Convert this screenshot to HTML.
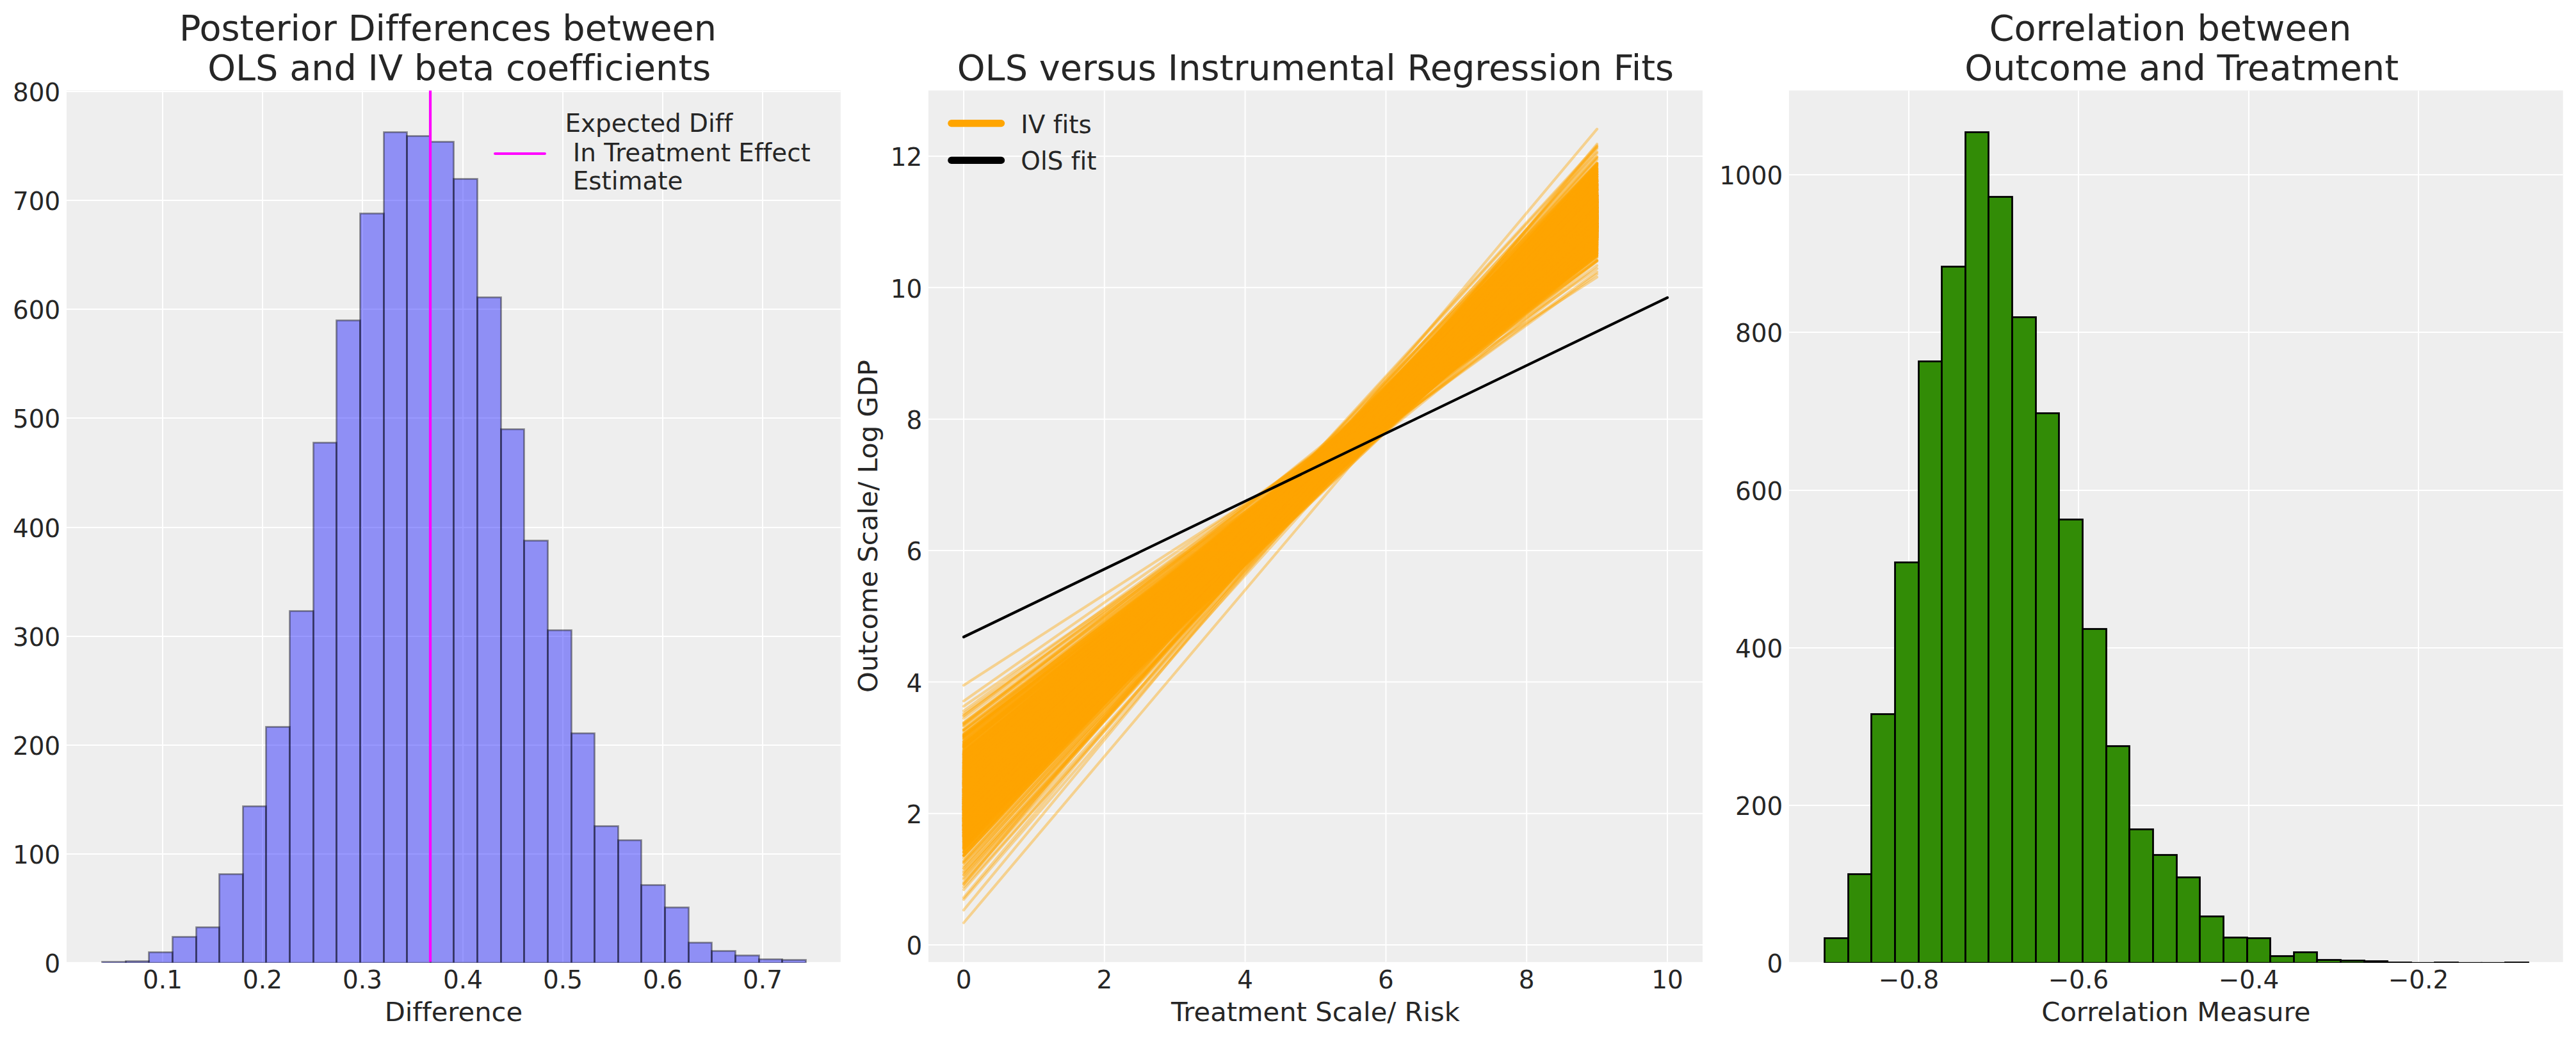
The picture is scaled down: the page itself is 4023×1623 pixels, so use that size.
<!DOCTYPE html>
<html lang="en"><head><meta charset="utf-8"><title>OLS vs IV posterior plots</title>
<style>html,body{margin:0;padding:0;background:#fff;overflow:hidden}svg{display:block}text{font-family:"DejaVu Sans","Liberation Sans",sans-serif;fill:#262626;white-space:pre;font-variant-ligatures:none;font-kerning:normal}</style></head><body>
<svg width="4023" height="1623" viewBox="0 0 4023 1623">
<rect width="4023" height="1623" fill="#fff"/>
<clipPath id="c1"><rect x="104" y="141.3" width="1208.8" height="1361.5"/></clipPath>
<clipPath id="b1"><rect x="104" y="141.3" width="1208.8" height="1362.6"/></clipPath>
<rect x="104" y="141.3" width="1208.8" height="1361.5" fill="#eeeeee"/>
<path d="M254 141.3V1502.8M410 141.3V1502.8M566 141.3V1502.8M723 141.3V1502.8M879 141.3V1502.8M1035 141.3V1502.8M1191 141.3V1502.8M104 1504H1312.8M104 1334H1312.8M104 1164H1312.8M104 994H1312.8M104 824H1312.8M104 653H1312.8M104 483H1312.8M104 313H1312.8M104 143H1312.8" stroke="#fff" stroke-width="2" fill="none" clip-path="url(#c1)"/>
<g clip-path="url(#b1)" fill="#0000ff" fill-opacity="0.4" stroke="#000" stroke-opacity="0.4" stroke-width="2.78" stroke-linejoin="miter">
<rect x="159.5" y="1502.5" width="37" height="1.7"/>
<rect x="196.5" y="1501.5" width="36" height="2.7"/>
<rect x="232.5" y="1487.5" width="37" height="16.7"/>
<rect x="269.5" y="1463.5" width="37" height="40.7"/>
<rect x="306.5" y="1448.5" width="36" height="55.7"/>
<rect x="342.5" y="1365.5" width="37" height="138.7"/>
<rect x="379.5" y="1259.5" width="36" height="244.7"/>
<rect x="415.5" y="1135.5" width="37" height="368.7"/>
<rect x="452.5" y="954.5" width="37" height="549.7"/>
<rect x="489.5" y="691.5" width="36" height="812.7"/>
<rect x="525.5" y="500.5" width="37" height="1003.7"/>
<rect x="562.5" y="333.5" width="37" height="1170.7"/>
<rect x="599.5" y="206.5" width="36" height="1297.7"/>
<rect x="635.5" y="212.5" width="37" height="1291.7"/>
<rect x="672.5" y="221.5" width="36" height="1282.7"/>
<rect x="708.5" y="279.5" width="37" height="1224.7"/>
<rect x="745.5" y="464.5" width="37" height="1039.7"/>
<rect x="782.5" y="670.5" width="36" height="833.7"/>
<rect x="818.5" y="844.5" width="37" height="659.7"/>
<rect x="855.5" y="984.5" width="37" height="519.7"/>
<rect x="892.5" y="1145.5" width="36" height="358.7"/>
<rect x="928.5" y="1290.5" width="37" height="213.7"/>
<rect x="965.5" y="1312.5" width="36" height="191.7"/>
<rect x="1001.5" y="1382.5" width="37" height="121.7"/>
<rect x="1038.5" y="1417.5" width="37" height="86.7"/>
<rect x="1075.5" y="1472.5" width="36" height="31.7"/>
<rect x="1111.5" y="1485.5" width="37" height="18.7"/>
<rect x="1148.5" y="1492.5" width="37" height="11.7"/>
<rect x="1185.5" y="1498.5" width="36" height="5.7"/>
<rect x="1221.5" y="1499.5" width="37" height="4.7"/>
</g>
<path d="M672 141.3V1502.8" stroke="#ff00ff" stroke-width="4.17" clip-path="url(#c1)"/>
<text x="94.3" y="1519.4" font-size="38.89" text-anchor="end" xml:space="preserve">0</text>
<text x="94.3" y="1349.4" font-size="38.89" text-anchor="end" xml:space="preserve">100</text>
<text x="94.3" y="1179.4" font-size="38.89" text-anchor="end" xml:space="preserve">200</text>
<text x="94.3" y="1009.4" font-size="38.89" text-anchor="end" xml:space="preserve">300</text>
<text x="94.3" y="839.4" font-size="38.89" text-anchor="end" xml:space="preserve">400</text>
<text x="94.3" y="668.4" font-size="38.89" text-anchor="end" xml:space="preserve">500</text>
<text x="94.3" y="498.4" font-size="38.89" text-anchor="end" xml:space="preserve">600</text>
<text x="94.3" y="328.4" font-size="38.89" text-anchor="end" xml:space="preserve">700</text>
<text x="94.3" y="158.4" font-size="38.89" text-anchor="end" xml:space="preserve">800</text>
<text x="254" y="1544.3" font-size="38.89" text-anchor="middle" xml:space="preserve">0.1</text>
<text x="410" y="1544.3" font-size="38.89" text-anchor="middle" xml:space="preserve">0.2</text>
<text x="566" y="1544.3" font-size="38.89" text-anchor="middle" xml:space="preserve">0.3</text>
<text x="723" y="1544.3" font-size="38.89" text-anchor="middle" xml:space="preserve">0.4</text>
<text x="879" y="1544.3" font-size="38.89" text-anchor="middle" xml:space="preserve">0.5</text>
<text x="1035" y="1544.3" font-size="38.89" text-anchor="middle" xml:space="preserve">0.6</text>
<text x="1191" y="1544.3" font-size="38.89" text-anchor="middle" xml:space="preserve">0.7</text>
<text x="708.4" y="1594.8" font-size="41.67" text-anchor="middle" xml:space="preserve">Difference</text>
<text x="708.4" y="62.5" font-size="55.7" text-anchor="middle" xml:space="preserve">Posterior Differences between </text>
<text x="708.4" y="125.2" font-size="55.7" text-anchor="middle" xml:space="preserve"> OLS and IV beta coefficients</text>
<path d="M773.1 240H850.9" stroke="#ff00ff" stroke-width="4.17" stroke-linecap="round"/>
<text x="882.4" y="206.1" font-size="38.89" text-anchor="start" xml:space="preserve">Expected Diff</text>
<text x="882.4" y="251.5" font-size="38.89" text-anchor="start" xml:space="preserve"> In Treatment Effect</text>
<text x="882.4" y="296.3" font-size="38.89" text-anchor="start" xml:space="preserve"> Estimate</text>
<clipPath id="c2"><rect x="1449.9" y="141.3" width="1209.1" height="1361.5"/></clipPath>
<clipPath id="b2"><rect x="1449.9" y="141.3" width="1209.1" height="1362.6"/></clipPath>
<rect x="1449.9" y="141.3" width="1209.1" height="1361.5" fill="#eeeeee"/>
<path d="M1505 141.3V1502.8M1724.8 141.3V1502.8M1944.6 141.3V1502.8M2164.4 141.3V1502.8M2384.2 141.3V1502.8M2604 141.3V1502.8M1449.9 1476H2659M1449.9 1270.67H2659M1449.9 1065.33H2659M1449.9 860H2659M1449.9 654.66H2659M1449.9 449.33H2659M1449.9 244H2659" stroke="#fff" stroke-width="2" fill="none" clip-path="url(#c2)"/>
<g clip-path="url(#c2)" stroke="#ffa500" stroke-opacity="0.4" stroke-width="4.17" stroke-linecap="round" fill="none">
<path d="M1505 1287.96L2494.1 309.24"/>
<path d="M1505 1284.29L2494.1 305.7"/>
<path d="M1505 1219.98L2494.1 359.95"/>
<path d="M1505 1259.72L2494.1 348.98"/>
<path d="M1505 1294.86L2494.1 313.43"/>
<path d="M1505 1234.6L2494.1 365.3"/>
<path d="M1505 1217.72L2494.1 354.89"/>
<path d="M1505 1266.35L2494.1 298.02"/>
<path d="M1505 1311.5L2494.1 295.69"/>
<path d="M1505 1208.06L2494.1 373.13"/>
<path d="M1505 1129.4L2494.1 394.65"/>
<path d="M1505 1182.88L2494.1 368.63"/>
<path d="M1505 1205.49L2494.1 360.89"/>
<path d="M1505 1256.71L2494.1 351.49"/>
<path d="M1505 1275.49L2494.1 320.89"/>
<path d="M1505 1236.63L2494.1 332.02"/>
<path d="M1505 1236.91L2494.1 370.68"/>
<path d="M1505 1263.2L2494.1 338.52"/>
<path d="M1505 1232.05L2494.1 383.94"/>
<path d="M1505 1265.04L2494.1 353.53"/>
<path d="M1505 1245.54L2494.1 375.24"/>
<path d="M1505 1335.02L2494.1 246.89"/>
<path d="M1505 1297.55L2494.1 329.95"/>
<path d="M1505 1211.37L2494.1 354.47"/>
<path d="M1505 1205.56L2494.1 359.88"/>
<path d="M1505 1234.48L2494.1 350.08"/>
<path d="M1505 1208.96L2494.1 408.19"/>
<path d="M1505 1225.81L2494.1 361.67"/>
<path d="M1505 1219.53L2494.1 355.93"/>
<path d="M1505 1283.11L2494.1 311.17"/>
<path d="M1505 1251.26L2494.1 366.06"/>
<path d="M1505 1222.41L2494.1 362.43"/>
<path d="M1505 1203.98L2494.1 382.11"/>
<path d="M1505 1209.24L2494.1 376.02"/>
<path d="M1505 1235.72L2494.1 325.55"/>
<path d="M1505 1251.82L2494.1 351.96"/>
<path d="M1505 1293.08L2494.1 304.95"/>
<path d="M1505 1213.06L2494.1 341.9"/>
<path d="M1505 1297.35L2494.1 314.07"/>
<path d="M1505 1263.08L2494.1 331.69"/>
<path d="M1505 1249.94L2494.1 335.49"/>
<path d="M1505 1161.32L2494.1 385.73"/>
<path d="M1505 1209.22L2494.1 383.86"/>
<path d="M1505 1278.66L2494.1 315.94"/>
<path d="M1505 1284.31L2494.1 279.14"/>
<path d="M1505 1278.49L2494.1 350.38"/>
<path d="M1505 1269.91L2494.1 305.82"/>
<path d="M1505 1232.11L2494.1 345.6"/>
<path d="M1505 1242.93L2494.1 353.9"/>
<path d="M1505 1198.04L2494.1 329.22"/>
<path d="M1505 1278.28L2494.1 300.47"/>
<path d="M1505 1279.55L2494.1 342.62"/>
<path d="M1505 1240.3L2494.1 341.76"/>
<path d="M1505 1230.07L2494.1 338.06"/>
<path d="M1505 1275.27L2494.1 324.52"/>
<path d="M1505 1256L2494.1 320.33"/>
<path d="M1505 1215.59L2494.1 358.49"/>
<path d="M1505 1301.71L2494.1 275.96"/>
<path d="M1505 1244.29L2494.1 312.91"/>
<path d="M1505 1260.09L2494.1 344.65"/>
<path d="M1505 1300.64L2494.1 290.33"/>
<path d="M1505 1294.74L2494.1 313.75"/>
<path d="M1505 1246.08L2494.1 337.41"/>
<path d="M1505 1286.62L2494.1 337.19"/>
<path d="M1505 1211.22L2494.1 370.61"/>
<path d="M1505 1225.63L2494.1 355.28"/>
<path d="M1505 1139.79L2494.1 381.67"/>
<path d="M1505 1281.51L2494.1 287.82"/>
<path d="M1505 1183.09L2494.1 399.88"/>
<path d="M1505 1287.1L2494.1 328.27"/>
<path d="M1505 1207.01L2494.1 349.81"/>
<path d="M1505 1232.39L2494.1 385.47"/>
<path d="M1505 1248.53L2494.1 347.28"/>
<path d="M1505 1263.26L2494.1 331.27"/>
<path d="M1505 1259.77L2494.1 305.42"/>
<path d="M1505 1302.94L2494.1 273.59"/>
<path d="M1505 1269.59L2494.1 331.63"/>
<path d="M1505 1288.85L2494.1 317.09"/>
<path d="M1505 1228.16L2494.1 354.88"/>
<path d="M1505 1260.16L2494.1 299.23"/>
<path d="M1505 1262.84L2494.1 338.16"/>
<path d="M1505 1234.79L2494.1 352.12"/>
<path d="M1505 1243L2494.1 334.89"/>
<path d="M1505 1250.22L2494.1 339.76"/>
<path d="M1505 1261.54L2494.1 334.41"/>
<path d="M1505 1280.74L2494.1 340.01"/>
<path d="M1505 1229.23L2494.1 349.73"/>
<path d="M1505 1224.21L2494.1 360.78"/>
<path d="M1505 1265.67L2494.1 302.56"/>
<path d="M1505 1168.24L2494.1 371.05"/>
<path d="M1505 1224.55L2494.1 352.63"/>
<path d="M1505 1297.17L2494.1 281.98"/>
<path d="M1505 1134.44L2494.1 407.29"/>
<path d="M1505 1208.2L2494.1 341.47"/>
<path d="M1505 1277.76L2494.1 318.52"/>
<path d="M1505 1171.16L2494.1 370.77"/>
<path d="M1505 1346.19L2494.1 263.38"/>
<path d="M1505 1131.55L2494.1 396.16"/>
<path d="M1505 1322.37L2494.1 314.69"/>
<path d="M1505 1330.06L2494.1 314.57"/>
<path d="M1505 1289.26L2494.1 315.23"/>
<path d="M1505 1252.65L2494.1 353.25"/>
<path d="M1505 1263.58L2494.1 325.72"/>
<path d="M1505 1184.69L2494.1 332.11"/>
<path d="M1505 1292.01L2494.1 324.9"/>
<path d="M1505 1209.54L2494.1 372.38"/>
<path d="M1505 1236.96L2494.1 341.18"/>
<path d="M1505 1282.25L2494.1 303.05"/>
<path d="M1505 1204.36L2494.1 366.82"/>
<path d="M1505 1237.97L2494.1 348.45"/>
<path d="M1505 1249.58L2494.1 324.19"/>
<path d="M1505 1185.77L2494.1 363.99"/>
<path d="M1505 1306.16L2494.1 316.08"/>
<path d="M1505 1265.9L2494.1 329.1"/>
<path d="M1505 1183.85L2494.1 374.12"/>
<path d="M1505 1262.19L2494.1 350.69"/>
<path d="M1505 1214.15L2494.1 353.12"/>
<path d="M1505 1232.91L2494.1 363.72"/>
<path d="M1505 1242.82L2494.1 323.09"/>
<path d="M1505 1217.87L2494.1 352.29"/>
<path d="M1505 1286.09L2494.1 308.94"/>
<path d="M1505 1227.59L2494.1 361.66"/>
<path d="M1505 1289.18L2494.1 310.92"/>
<path d="M1505 1273.76L2494.1 362.03"/>
<path d="M1505 1297.23L2494.1 327.12"/>
<path d="M1505 1223.26L2494.1 346.01"/>
<path d="M1505 1255.04L2494.1 375.29"/>
<path d="M1505 1190.27L2494.1 355.37"/>
<path d="M1505 1294.92L2494.1 342.77"/>
<path d="M1505 1277.12L2494.1 301.7"/>
<path d="M1505 1330.3L2494.1 278.47"/>
<path d="M1505 1288.11L2494.1 289.88"/>
<path d="M1505 1259.85L2494.1 328.94"/>
<path d="M1505 1260.84L2494.1 360.69"/>
<path d="M1505 1251.63L2494.1 311.73"/>
<path d="M1505 1232.8L2494.1 319.96"/>
<path d="M1505 1303.5L2494.1 294.08"/>
<path d="M1505 1289.81L2494.1 313.99"/>
<path d="M1505 1216.51L2494.1 359.74"/>
<path d="M1505 1233L2494.1 365.89"/>
<path d="M1505 1286.56L2494.1 283.36"/>
<path d="M1505 1270.27L2494.1 335.58"/>
<path d="M1505 1241.92L2494.1 343.22"/>
<path d="M1505 1303.94L2494.1 312.44"/>
<path d="M1505 1242.03L2494.1 354.13"/>
<path d="M1505 1254.67L2494.1 359.3"/>
<path d="M1505 1215.97L2494.1 333.17"/>
<path d="M1505 1166.06L2494.1 387.25"/>
<path d="M1505 1272.11L2494.1 301.45"/>
<path d="M1505 1197.84L2494.1 366.86"/>
<path d="M1505 1234.86L2494.1 359.51"/>
<path d="M1505 1222.65L2494.1 359.44"/>
<path d="M1505 1285.87L2494.1 324.08"/>
<path d="M1505 1248.37L2494.1 338.36"/>
<path d="M1505 1256.65L2494.1 340.89"/>
<path d="M1505 1180.55L2494.1 382.18"/>
<path d="M1505 1264.35L2494.1 355.64"/>
<path d="M1505 1195.81L2494.1 383.36"/>
<path d="M1505 1243.62L2494.1 308.99"/>
<path d="M1505 1274.06L2494.1 335.58"/>
<path d="M1505 1263.49L2494.1 349.93"/>
<path d="M1505 1314.14L2494.1 267.23"/>
<path d="M1505 1254.89L2494.1 305.99"/>
<path d="M1505 1292.03L2494.1 338.73"/>
<path d="M1505 1259.74L2494.1 335.77"/>
<path d="M1505 1250.68L2494.1 349.27"/>
<path d="M1505 1308.56L2494.1 331.32"/>
<path d="M1505 1282.73L2494.1 296.73"/>
<path d="M1505 1194.17L2494.1 369.57"/>
<path d="M1505 1289.26L2494.1 306.29"/>
<path d="M1505 1280.54L2494.1 332.54"/>
<path d="M1505 1281.54L2494.1 304.64"/>
<path d="M1505 1276.2L2494.1 331.28"/>
<path d="M1505 1198.16L2494.1 369.62"/>
<path d="M1505 1213.04L2494.1 379.56"/>
<path d="M1505 1327.42L2494.1 294.65"/>
<path d="M1505 1245.36L2494.1 314.27"/>
<path d="M1505 1194.83L2494.1 378.28"/>
<path d="M1505 1261.69L2494.1 324.41"/>
<path d="M1505 1235.98L2494.1 346.31"/>
<path d="M1505 1174.88L2494.1 387.86"/>
<path d="M1505 1155.47L2494.1 399.42"/>
<path d="M1505 1172.74L2494.1 369.04"/>
<path d="M1505 1265.95L2494.1 333.61"/>
<path d="M1505 1251.21L2494.1 339.77"/>
<path d="M1505 1240.27L2494.1 342.77"/>
<path d="M1505 1248.54L2494.1 315.36"/>
<path d="M1505 1266.36L2494.1 312.72"/>
<path d="M1505 1153.19L2494.1 384.13"/>
<path d="M1505 1245.08L2494.1 351.19"/>
<path d="M1505 1231.71L2494.1 374.32"/>
<path d="M1505 1185.42L2494.1 356.11"/>
<path d="M1505 1215.69L2494.1 338.85"/>
<path d="M1505 1247.79L2494.1 341.55"/>
<path d="M1505 1233.22L2494.1 336.91"/>
<path d="M1505 1177.54L2494.1 363.59"/>
<path d="M1505 1220.16L2494.1 338.88"/>
<path d="M1505 1306.39L2494.1 261.25"/>
<path d="M1505 1210.41L2494.1 368.73"/>
<path d="M1505 1158.22L2494.1 360.37"/>
<path d="M1505 1277.53L2494.1 344.96"/>
<path d="M1505 1264L2494.1 310.65"/>
<path d="M1505 1263.6L2494.1 318.83"/>
<path d="M1505 1191.4L2494.1 354.23"/>
<path d="M1505 1265.52L2494.1 286.2"/>
<path d="M1505 1198.87L2494.1 338.53"/>
<path d="M1505 1215.18L2494.1 379.07"/>
<path d="M1505 1245.15L2494.1 372.55"/>
<path d="M1505 1236.81L2494.1 329.58"/>
<path d="M1505 1290.92L2494.1 329.97"/>
<path d="M1505 1275.57L2494.1 320.46"/>
<path d="M1505 1240.32L2494.1 327.11"/>
<path d="M1505 1306.04L2494.1 330.93"/>
<path d="M1505 1280.34L2494.1 360.31"/>
<path d="M1505 1281.74L2494.1 309.03"/>
<path d="M1505 1188.75L2494.1 371.27"/>
<path d="M1505 1184.63L2494.1 378.95"/>
<path d="M1505 1280.31L2494.1 315.37"/>
<path d="M1505 1200.33L2494.1 381.9"/>
<path d="M1505 1256.57L2494.1 362.7"/>
<path d="M1505 1249.19L2494.1 341.23"/>
<path d="M1505 1241.79L2494.1 360.84"/>
<path d="M1505 1251.45L2494.1 368.11"/>
<path d="M1505 1294.49L2494.1 289.66"/>
<path d="M1505 1139.17L2494.1 399.71"/>
<path d="M1505 1279.55L2494.1 307.62"/>
<path d="M1505 1336.12L2494.1 272.9"/>
<path d="M1505 1260.41L2494.1 344.12"/>
<path d="M1505 1262.75L2494.1 349.3"/>
<path d="M1505 1289.8L2494.1 328.05"/>
<path d="M1505 1310.44L2494.1 277.38"/>
<path d="M1505 1208.42L2494.1 375.99"/>
<path d="M1505 1250.72L2494.1 330.28"/>
<path d="M1505 1239.19L2494.1 337.33"/>
<path d="M1505 1248.56L2494.1 297.61"/>
<path d="M1505 1274.76L2494.1 349.7"/>
<path d="M1505 1265.94L2494.1 308.51"/>
<path d="M1505 1234.03L2494.1 348.48"/>
<path d="M1505 1253.64L2494.1 335.71"/>
<path d="M1505 1239.52L2494.1 371.21"/>
<path d="M1505 1227.8L2494.1 359.07"/>
<path d="M1505 1236.27L2494.1 331.31"/>
<path d="M1505 1246.25L2494.1 341.33"/>
<path d="M1505 1198.65L2494.1 365.14"/>
<path d="M1505 1309.28L2494.1 292.97"/>
<path d="M1505 1231.57L2494.1 326.16"/>
<path d="M1505 1190.45L2494.1 371.58"/>
<path d="M1505 1318.3L2494.1 332.29"/>
<path d="M1505 1226.88L2494.1 363.98"/>
<path d="M1505 1295.07L2494.1 347.44"/>
<path d="M1505 1257.15L2494.1 343.57"/>
<path d="M1505 1245.32L2494.1 314.34"/>
<path d="M1505 1257.78L2494.1 331.96"/>
<path d="M1505 1240.37L2494.1 365.46"/>
<path d="M1505 1264.54L2494.1 347.13"/>
<path d="M1505 1304.28L2494.1 258.02"/>
<path d="M1505 1149.8L2494.1 390.1"/>
<path d="M1505 1253.58L2494.1 334.55"/>
<path d="M1505 1269.15L2494.1 326.25"/>
<path d="M1505 1204.53L2494.1 362.69"/>
<path d="M1505 1181.03L2494.1 361.23"/>
<path d="M1505 1314.31L2494.1 259.91"/>
<path d="M1505 1232.54L2494.1 343.52"/>
<path d="M1505 1331.73L2494.1 282.5"/>
<path d="M1505 1266.04L2494.1 316.62"/>
<path d="M1505 1262.86L2494.1 343.17"/>
<path d="M1505 1256.78L2494.1 311.23"/>
<path d="M1505 1291.22L2494.1 335.38"/>
<path d="M1505 1295.78L2494.1 304.72"/>
<path d="M1505 1268.62L2494.1 325.67"/>
<path d="M1505 1273.35L2494.1 349.24"/>
<path d="M1505 1237.7L2494.1 311.53"/>
<path d="M1505 1281.71L2494.1 279.51"/>
<path d="M1505 1287.82L2494.1 320.21"/>
<path d="M1505 1197.88L2494.1 352.56"/>
<path d="M1505 1218.9L2494.1 348.19"/>
<path d="M1505 1296.22L2494.1 360.07"/>
<path d="M1505 1221.02L2494.1 349.42"/>
<path d="M1505 1235.68L2494.1 347"/>
<path d="M1505 1208.27L2494.1 359.75"/>
<path d="M1505 1253.04L2494.1 356.41"/>
<path d="M1505 1271.34L2494.1 329.18"/>
<path d="M1505 1290.35L2494.1 311.22"/>
<path d="M1505 1237.46L2494.1 322.1"/>
<path d="M1505 1314.95L2494.1 265.98"/>
<path d="M1505 1248.19L2494.1 338.73"/>
<path d="M1505 1269.88L2494.1 290.33"/>
<path d="M1505 1277.52L2494.1 330.63"/>
<path d="M1505 1234.24L2494.1 354.07"/>
<path d="M1505 1146.97L2494.1 427.95"/>
<path d="M1505 1225.66L2494.1 321.65"/>
<path d="M1505 1246.95L2494.1 320.66"/>
<path d="M1505 1304.11L2494.1 265"/>
<path d="M1505 1182.26L2494.1 363.12"/>
<path d="M1505 1313.46L2494.1 275.42"/>
<path d="M1505 1237.84L2494.1 340.49"/>
<path d="M1505 1282.03L2494.1 320.43"/>
<path d="M1505 1140.43L2494.1 401.68"/>
<path d="M1505 1256.43L2494.1 332.67"/>
<path d="M1505 1218.06L2494.1 327.12"/>
<path d="M1505 1270.78L2494.1 311.87"/>
<path d="M1505 1255.88L2494.1 335.22"/>
<path d="M1505 1208L2494.1 372.39"/>
<path d="M1505 1294.29L2494.1 318.27"/>
<path d="M1505 1258.52L2494.1 298.83"/>
<path d="M1505 1268.31L2494.1 314.95"/>
<path d="M1505 1287.82L2494.1 307.8"/>
<path d="M1505 1295.81L2494.1 309.84"/>
<path d="M1505 1263.96L2494.1 350.71"/>
<path d="M1505 1192.17L2494.1 371.49"/>
<path d="M1505 1179.55L2494.1 360.76"/>
<path d="M1505 1304.1L2494.1 302.03"/>
<path d="M1505 1281.25L2494.1 320.54"/>
<path d="M1505 1258.29L2494.1 336.92"/>
<path d="M1505 1231.04L2494.1 346.4"/>
<path d="M1505 1272.06L2494.1 355.26"/>
<path d="M1505 1255.34L2494.1 338.97"/>
<path d="M1505 1247.03L2494.1 355.61"/>
<path d="M1505 1209.97L2494.1 343.64"/>
<path d="M1505 1330.46L2494.1 275.71"/>
<path d="M1505 1253.62L2494.1 324.08"/>
<path d="M1505 1206.34L2494.1 333.56"/>
<path d="M1505 1197.64L2494.1 373.11"/>
<path d="M1505 1226.79L2494.1 362.32"/>
<path d="M1505 1276.5L2494.1 315.19"/>
<path d="M1505 1280.2L2494.1 316.38"/>
<path d="M1505 1253.93L2494.1 354.3"/>
<path d="M1505 1248L2494.1 329.89"/>
<path d="M1505 1213.66L2494.1 320.04"/>
<path d="M1505 1205.64L2494.1 367.65"/>
<path d="M1505 1300.35L2494.1 301.39"/>
<path d="M1505 1278.82L2494.1 339.95"/>
<path d="M1505 1324.2L2494.1 249.26"/>
<path d="M1505 1233.26L2494.1 370.9"/>
<path d="M1505 1258.86L2494.1 353.62"/>
<path d="M1505 1268.94L2494.1 297.07"/>
<path d="M1505 1251.69L2494.1 353.91"/>
<path d="M1505 1176.91L2494.1 358.32"/>
<path d="M1505 1191.13L2494.1 342.12"/>
<path d="M1505 1252.41L2494.1 331.14"/>
<path d="M1505 1258.34L2494.1 321.37"/>
<path d="M1505 1223.68L2494.1 315.47"/>
<path d="M1505 1290.84L2494.1 311.17"/>
<path d="M1505 1295.29L2494.1 316.32"/>
<path d="M1505 1280.65L2494.1 345.01"/>
<path d="M1505 1252.07L2494.1 335.57"/>
<path d="M1505 1222.46L2494.1 325.22"/>
<path d="M1505 1261.16L2494.1 310.76"/>
<path d="M1505 1297.09L2494.1 322.85"/>
<path d="M1505 1264.3L2494.1 345.62"/>
<path d="M1505 1275.17L2494.1 331.3"/>
<path d="M1505 1233.69L2494.1 341.4"/>
<path d="M1505 1191.43L2494.1 374.49"/>
<path d="M1505 1204.68L2494.1 359.28"/>
<path d="M1505 1276.84L2494.1 312.54"/>
<path d="M1505 1272.57L2494.1 328.9"/>
<path d="M1505 1306.81L2494.1 289.2"/>
<path d="M1505 1251.26L2494.1 332.86"/>
<path d="M1505 1284.85L2494.1 314.15"/>
<path d="M1505 1292.43L2494.1 292.1"/>
<path d="M1505 1265.5L2494.1 286.41"/>
<path d="M1505 1217.52L2494.1 344.92"/>
<path d="M1505 1242.7L2494.1 340.73"/>
<path d="M1505 1277.14L2494.1 353.99"/>
<path d="M1505 1203.25L2494.1 356.8"/>
<path d="M1505 1293.55L2494.1 348.11"/>
<path d="M1505 1306.2L2494.1 325.21"/>
<path d="M1505 1219.98L2494.1 338.54"/>
<path d="M1505 1307.92L2494.1 265.58"/>
<path d="M1505 1240.53L2494.1 345.91"/>
<path d="M1505 1263.29L2494.1 362.59"/>
<path d="M1505 1245.52L2494.1 347.27"/>
<path d="M1505 1228.49L2494.1 362.82"/>
<path d="M1505 1260.15L2494.1 318.36"/>
<path d="M1505 1224.94L2494.1 308.88"/>
<path d="M1505 1305.68L2494.1 283.46"/>
<path d="M1505 1284.27L2494.1 330.22"/>
<path d="M1505 1286.48L2494.1 336.94"/>
<path d="M1505 1242.43L2494.1 343.02"/>
<path d="M1505 1190.96L2494.1 374.21"/>
<path d="M1505 1261.5L2494.1 352.94"/>
<path d="M1505 1212.56L2494.1 356.73"/>
<path d="M1505 1300.7L2494.1 324.37"/>
<path d="M1505 1236.67L2494.1 324.02"/>
<path d="M1505 1295.55L2494.1 273.05"/>
<path d="M1505 1266.23L2494.1 303.91"/>
<path d="M1505 1288.58L2494.1 319.77"/>
<path d="M1505 1254.46L2494.1 324.78"/>
<path d="M1505 1261.44L2494.1 333.18"/>
<path d="M1505 1281.18L2494.1 324.17"/>
<path d="M1505 1289.89L2494.1 315.45"/>
<path d="M1505 1235.92L2494.1 370.4"/>
<path d="M1505 1288.12L2494.1 341.52"/>
<path d="M1505 1321.39L2494.1 237.09"/>
<path d="M1505 1249.86L2494.1 341.31"/>
<path d="M1505 1237.64L2494.1 340.58"/>
<path d="M1505 1208.84L2494.1 342.06"/>
<path d="M1505 1208.28L2494.1 393.9"/>
<path d="M1505 1303.9L2494.1 312.24"/>
<path d="M1505 1251.83L2494.1 333.13"/>
<path d="M1505 1258.62L2494.1 324.48"/>
<path d="M1505 1317.79L2494.1 283.7"/>
<path d="M1505 1316.28L2494.1 239.22"/>
<path d="M1505 1209.73L2494.1 356.54"/>
<path d="M1505 1304.82L2494.1 321.85"/>
<path d="M1505 1286.7L2494.1 331.58"/>
<path d="M1505 1257.42L2494.1 316.81"/>
<path d="M1505 1264.56L2494.1 318.75"/>
<path d="M1505 1273.54L2494.1 360.27"/>
<path d="M1505 1290.03L2494.1 272.34"/>
<path d="M1505 1267.92L2494.1 313.27"/>
<path d="M1505 1248.91L2494.1 311.7"/>
<path d="M1505 1300.94L2494.1 305.36"/>
<path d="M1505 1288.57L2494.1 315.66"/>
<path d="M1505 1283.19L2494.1 338.49"/>
<path d="M1505 1233.78L2494.1 297.7"/>
<path d="M1505 1313.07L2494.1 284.57"/>
<path d="M1505 1252.14L2494.1 304.24"/>
<path d="M1505 1255.5L2494.1 346.77"/>
<path d="M1505 1211.81L2494.1 356.25"/>
<path d="M1505 1256.74L2494.1 365.62"/>
<path d="M1505 1209.87L2494.1 367.66"/>
<path d="M1505 1244.03L2494.1 322.12"/>
<path d="M1505 1277L2494.1 345.43"/>
<path d="M1505 1147.31L2494.1 374.47"/>
<path d="M1505 1248.25L2494.1 332.12"/>
<path d="M1505 1289.07L2494.1 332.14"/>
<path d="M1505 1264.36L2494.1 338.65"/>
<path d="M1505 1215.02L2494.1 366.22"/>
<path d="M1505 1297.56L2494.1 300.56"/>
<path d="M1505 1227.41L2494.1 360.72"/>
<path d="M1505 1207.28L2494.1 377.46"/>
<path d="M1505 1207.53L2494.1 367.48"/>
<path d="M1505 1263.39L2494.1 349.46"/>
<path d="M1505 1303.49L2494.1 324.99"/>
<path d="M1505 1294.33L2494.1 304.02"/>
<path d="M1505 1249.27L2494.1 320.79"/>
<path d="M1505 1217.31L2494.1 385.12"/>
<path d="M1505 1222.6L2494.1 353.21"/>
<path d="M1505 1219.83L2494.1 367.14"/>
<path d="M1505 1255.57L2494.1 353.04"/>
<path d="M1505 1162.4L2494.1 370.46"/>
<path d="M1505 1262.31L2494.1 340.26"/>
<path d="M1505 1258.08L2494.1 301.5"/>
<path d="M1505 1254.45L2494.1 349.92"/>
<path d="M1505 1264.81L2494.1 320.2"/>
<path d="M1505 1212.85L2494.1 363.06"/>
<path d="M1505 1196.19L2494.1 382.17"/>
<path d="M1505 1216.35L2494.1 345.67"/>
<path d="M1505 1295.31L2494.1 305.65"/>
<path d="M1505 1282.05L2494.1 300.61"/>
<path d="M1505 1232L2494.1 348.84"/>
<path d="M1505 1308.05L2494.1 315.37"/>
<path d="M1505 1238.48L2494.1 346.17"/>
<path d="M1505 1303.5L2494.1 290.89"/>
<path d="M1505 1258.69L2494.1 312.66"/>
<path d="M1505 1242.62L2494.1 359.12"/>
<path d="M1505 1281.95L2494.1 315.71"/>
<path d="M1505 1238.21L2494.1 377.1"/>
<path d="M1505 1202.31L2494.1 352.36"/>
<path d="M1505 1200.3L2494.1 386.06"/>
<path d="M1505 1283.67L2494.1 352.18"/>
<path d="M1505 1249.86L2494.1 338.79"/>
<path d="M1505 1234.7L2494.1 325.28"/>
<path d="M1505 1251.93L2494.1 365.57"/>
<path d="M1505 1315.14L2494.1 307.37"/>
<path d="M1505 1241.86L2494.1 356.45"/>
<path d="M1505 1233.28L2494.1 368.65"/>
<path d="M1505 1291.59L2494.1 296.23"/>
<path d="M1505 1311.25L2494.1 304.56"/>
<path d="M1505 1273.61L2494.1 336.93"/>
<path d="M1505 1167.13L2494.1 372.95"/>
<path d="M1505 1234.23L2494.1 361.03"/>
<path d="M1505 1269.79L2494.1 315.38"/>
<path d="M1505 1263.97L2494.1 348.06"/>
<path d="M1505 1319.99L2494.1 304.71"/>
<path d="M1505 1213.18L2494.1 393.14"/>
<path d="M1505 1254.82L2494.1 296.18"/>
<path d="M1505 1227.75L2494.1 356.44"/>
<path d="M1505 1295.58L2494.1 295.24"/>
<path d="M1505 1248.56L2494.1 339"/>
<path d="M1505 1287.41L2494.1 305.98"/>
<path d="M1505 1222.36L2494.1 352.47"/>
<path d="M1505 1165.92L2494.1 348.83"/>
<path d="M1505 1214.99L2494.1 377.17"/>
<path d="M1505 1243.64L2494.1 370.92"/>
<path d="M1505 1218.47L2494.1 374.73"/>
<path d="M1505 1310.94L2494.1 318.53"/>
<path d="M1505 1289.96L2494.1 288.6"/>
<path d="M1505 1252.4L2494.1 319.98"/>
<path d="M1505 1217.44L2494.1 374.35"/>
<path d="M1505 1263.13L2494.1 356.57"/>
<path d="M1505 1225.56L2494.1 358.33"/>
<path d="M1505 1285.58L2494.1 276.76"/>
<path d="M1505 1298.15L2494.1 362.96"/>
<path d="M1505 1264.15L2494.1 317.73"/>
<path d="M1505 1246.94L2494.1 359.88"/>
<path d="M1505 1149.35L2494.1 373.97"/>
<path d="M1505 1230.54L2494.1 369.22"/>
<path d="M1505 1205.58L2494.1 368.2"/>
<path d="M1505 1284.31L2494.1 345.6"/>
<path d="M1505 1267.23L2494.1 346.22"/>
<path d="M1505 1199.34L2494.1 340.13"/>
<path d="M1505 1224.46L2494.1 336.63"/>
<path d="M1505 1310.52L2494.1 294.44"/>
<path d="M1505 1219.67L2494.1 371.39"/>
<path d="M1505 1233.91L2494.1 382.76"/>
<path d="M1505 1246.22L2494.1 347.29"/>
<path d="M1505 1221.05L2494.1 354.74"/>
<path d="M1505 1233.65L2494.1 348.6"/>
<path d="M1505 1273.21L2494.1 324.07"/>
<path d="M1505 1323.83L2494.1 297.02"/>
<path d="M1505 1173.22L2494.1 381.77"/>
<path d="M1505 1251.15L2494.1 337.65"/>
<path d="M1505 1237.53L2494.1 320.09"/>
<path d="M1505 1225.18L2494.1 316.24"/>
<path d="M1505 1244.93L2494.1 343.13"/>
<path d="M1505 1245.81L2494.1 354.63"/>
<path d="M1505 1289.27L2494.1 309.56"/>
<path d="M1505 1238.38L2494.1 355.86"/>
<path d="M1505 1254.89L2494.1 348.95"/>
<path d="M1505 1252.18L2494.1 337.43"/>
<path d="M1505 1268.47L2494.1 346.75"/>
<path d="M1505 1236.64L2494.1 333.72"/>
<path d="M1505 1289.58L2494.1 310.18"/>
<path d="M1505 1248.07L2494.1 333.91"/>
<path d="M1505 1260.69L2494.1 334.67"/>
<path d="M1505 1258.03L2494.1 346.84"/>
<path d="M1505 1218.67L2494.1 373.41"/>
<path d="M1505 1217.75L2494.1 360.5"/>
<path d="M1505 1211.74L2494.1 369.74"/>
<path d="M1505 1256.37L2494.1 329.15"/>
<path d="M1505 1220.09L2494.1 354.78"/>
<path d="M1505 1221.09L2494.1 379.88"/>
<path d="M1505 1260.17L2494.1 330.01"/>
<path d="M1505 1288.11L2494.1 339.38"/>
<path d="M1505 1180.73L2494.1 387.99"/>
<path d="M1505 1312.65L2494.1 288.6"/>
<path d="M1505 1277.93L2494.1 361.08"/>
<path d="M1505 1245.76L2494.1 338.28"/>
<path d="M1505 1288.69L2494.1 304.93"/>
<path d="M1505 1256.23L2494.1 336.95"/>
<path d="M1505 1230.03L2494.1 357.12"/>
<path d="M1505 1326.36L2494.1 269.65"/>
<path d="M1505 1215.84L2494.1 375.53"/>
<path d="M1505 1250.46L2494.1 342.47"/>
<path d="M1505 1289.93L2494.1 320.37"/>
<path d="M1505 1203.11L2494.1 362.47"/>
<path d="M1505 1261.59L2494.1 353.9"/>
<path d="M1505 1263.83L2494.1 324.06"/>
<path d="M1505 1324.74L2494.1 254.64"/>
<path d="M1505 1213.8L2494.1 360.91"/>
<path d="M1505 1254.71L2494.1 343.25"/>
<path d="M1505 1269.98L2494.1 312.61"/>
<path d="M1505 1274.93L2494.1 354.93"/>
<path d="M1505 1192.7L2494.1 361.29"/>
<path d="M1505 1264.55L2494.1 323.39"/>
<path d="M1505 1252.4L2494.1 330.68"/>
<path d="M1505 1264.26L2494.1 320.67"/>
<path d="M1505 1300.51L2494.1 312.57"/>
<path d="M1505 1291.92L2494.1 311.62"/>
<path d="M1505 1259.76L2494.1 318.63"/>
<path d="M1505 1258.57L2494.1 323.72"/>
<path d="M1505 1200.43L2494.1 361.79"/>
<path d="M1505 1263.93L2494.1 358.48"/>
<path d="M1505 1253.78L2494.1 324.76"/>
<path d="M1505 1219.68L2494.1 332.71"/>
<path d="M1505 1243.2L2494.1 322.12"/>
<path d="M1505 1212.25L2494.1 354.68"/>
<path d="M1505 1323.62L2494.1 309.61"/>
<path d="M1505 1309.42L2494.1 255.46"/>
<path d="M1505 1236.14L2494.1 348.37"/>
<path d="M1505 1297.88L2494.1 357.23"/>
<path d="M1505 1236.63L2494.1 338.09"/>
<path d="M1505 1314.78L2494.1 318.33"/>
<path d="M1505 1284.21L2494.1 341.31"/>
<path d="M1505 1262.31L2494.1 342.54"/>
<path d="M1505 1226.24L2494.1 326.98"/>
<path d="M1505 1261.06L2494.1 338.14"/>
<path d="M1505 1204.02L2494.1 358.58"/>
<path d="M1505 1256.09L2494.1 297.63"/>
<path d="M1505 1200.71L2494.1 335.42"/>
<path d="M1505 1273.45L2494.1 324.09"/>
<path d="M1505 1259.64L2494.1 336.49"/>
<path d="M1505 1306.7L2494.1 321.12"/>
<path d="M1505 1259.15L2494.1 345.56"/>
<path d="M1505 1283.95L2494.1 303.01"/>
<path d="M1505 1205.98L2494.1 355.13"/>
<path d="M1505 1273.57L2494.1 319.39"/>
<path d="M1505 1229.59L2494.1 330.36"/>
<path d="M1505 1268.62L2494.1 341.3"/>
<path d="M1505 1255.07L2494.1 335.67"/>
<path d="M1505 1277.38L2494.1 302.06"/>
<path d="M1505 1154.5L2494.1 379.7"/>
<path d="M1505 1251.29L2494.1 315.63"/>
<path d="M1505 1180.42L2494.1 369.22"/>
<path d="M1505 1298.71L2494.1 305.89"/>
<path d="M1505 1159.31L2494.1 381.26"/>
<path d="M1505 1219.3L2494.1 374.1"/>
<path d="M1505 1197.03L2494.1 398.27"/>
<path d="M1505 1300.66L2494.1 279.87"/>
<path d="M1505 1195.09L2494.1 369.66"/>
<path d="M1505 1252.35L2494.1 330.22"/>
<path d="M1505 1248.47L2494.1 370.84"/>
<path d="M1505 1175.93L2494.1 385.89"/>
<path d="M1505 1243.93L2494.1 352.54"/>
<path d="M1505 1287.28L2494.1 329.65"/>
<path d="M1505 1270.71L2494.1 368.72"/>
<path d="M1505 1290.45L2494.1 314.82"/>
<path d="M1505 1224.7L2494.1 335.02"/>
<path d="M1505 1247.14L2494.1 331.94"/>
<path d="M1505 1241.85L2494.1 353.75"/>
<path d="M1505 1265.23L2494.1 328.25"/>
<path d="M1505 1305.45L2494.1 267.86"/>
<path d="M1505 1299.2L2494.1 361.01"/>
<path d="M1505 1260.79L2494.1 333.45"/>
<path d="M1505 1217.67L2494.1 345.76"/>
<path d="M1505 1209.92L2494.1 347.51"/>
<path d="M1505 1282.12L2494.1 272.66"/>
<path d="M1505 1188.57L2494.1 350.88"/>
<path d="M1505 1207.39L2494.1 355.91"/>
<path d="M1505 1243.55L2494.1 335.54"/>
<path d="M1505 1223.2L2494.1 337.98"/>
<path d="M1505 1322.6L2494.1 281.31"/>
<path d="M1505 1146.35L2494.1 395.57"/>
<path d="M1505 1254.75L2494.1 316.61"/>
<path d="M1505 1254.86L2494.1 294"/>
<path d="M1505 1203.88L2494.1 366.77"/>
<path d="M1505 1223.68L2494.1 353.59"/>
<path d="M1505 1266.01L2494.1 323.27"/>
<path d="M1505 1291.15L2494.1 270.99"/>
<path d="M1505 1211.22L2494.1 360.25"/>
<path d="M1505 1163.62L2494.1 358.3"/>
<path d="M1505 1299.15L2494.1 321.49"/>
<path d="M1505 1306.7L2494.1 293.38"/>
<path d="M1505 1239.16L2494.1 347.62"/>
<path d="M1505 1143.26L2494.1 381.91"/>
<path d="M1505 1289.7L2494.1 281.03"/>
<path d="M1505 1261.05L2494.1 360.05"/>
<path d="M1505 1303.44L2494.1 315.98"/>
<path d="M1505 1245.49L2494.1 333.74"/>
<path d="M1505 1242.95L2494.1 354.22"/>
<path d="M1505 1250.05L2494.1 366.61"/>
<path d="M1505 1290.41L2494.1 280.35"/>
<path d="M1505 1295.87L2494.1 288.33"/>
<path d="M1505 1150.25L2494.1 383.64"/>
<path d="M1505 1215.91L2494.1 366.03"/>
<path d="M1505 1298.97L2494.1 269.27"/>
<path d="M1505 1238.25L2494.1 348.94"/>
<path d="M1505 1177.95L2494.1 357.46"/>
<path d="M1505 1262.7L2494.1 347.65"/>
<path d="M1505 1257.07L2494.1 349.82"/>
<path d="M1505 1244.73L2494.1 336.71"/>
<path d="M1505 1238.9L2494.1 357.37"/>
<path d="M1505 1229.68L2494.1 336.4"/>
<path d="M1505 1228.28L2494.1 345.11"/>
<path d="M1505 1275.86L2494.1 339.5"/>
<path d="M1505 1214.76L2494.1 356.32"/>
<path d="M1505 1243.01L2494.1 348.32"/>
<path d="M1505 1234.06L2494.1 329.28"/>
<path d="M1505 1305.67L2494.1 306.46"/>
<path d="M1505 1271.51L2494.1 332.59"/>
<path d="M1505 1231.99L2494.1 324.83"/>
<path d="M1505 1245.13L2494.1 295.68"/>
<path d="M1505 1243.2L2494.1 302.17"/>
<path d="M1505 1290.43L2494.1 305.31"/>
<path d="M1505 1268.51L2494.1 320.98"/>
<path d="M1505 1293.31L2494.1 262.51"/>
<path d="M1505 1300.69L2494.1 298.96"/>
<path d="M1505 1261.51L2494.1 349.59"/>
<path d="M1505 1231.84L2494.1 345.8"/>
<path d="M1505 1278.96L2494.1 307.12"/>
<path d="M1505 1281.57L2494.1 333.4"/>
<path d="M1505 1267.27L2494.1 359.07"/>
<path d="M1505 1203.42L2494.1 391.01"/>
<path d="M1505 1161.97L2494.1 374.19"/>
<path d="M1505 1274.42L2494.1 337.13"/>
<path d="M1505 1282.32L2494.1 317.7"/>
<path d="M1505 1279.16L2494.1 312.43"/>
<path d="M1505 1187.01L2494.1 361.45"/>
<path d="M1505 1293.62L2494.1 311.76"/>
<path d="M1505 1221.93L2494.1 344.19"/>
<path d="M1505 1277.54L2494.1 337.65"/>
<path d="M1505 1272.2L2494.1 330.49"/>
<path d="M1505 1228.51L2494.1 369.35"/>
<path d="M1505 1211.74L2494.1 337.95"/>
<path d="M1505 1159.49L2494.1 388.39"/>
<path d="M1505 1219.98L2494.1 368.74"/>
<path d="M1505 1175.65L2494.1 385.8"/>
<path d="M1505 1271.28L2494.1 328.23"/>
<path d="M1505 1245.49L2494.1 326.75"/>
<path d="M1505 1304.82L2494.1 330.94"/>
<path d="M1505 1278.11L2494.1 340.29"/>
<path d="M1505 1228.11L2494.1 357.33"/>
<path d="M1505 1234.47L2494.1 297.32"/>
<path d="M1505 1222.74L2494.1 335.03"/>
<path d="M1505 1276.24L2494.1 322.08"/>
<path d="M1505 1255.35L2494.1 320.19"/>
<path d="M1505 1182.9L2494.1 336.65"/>
<path d="M1505 1254.4L2494.1 339.49"/>
<path d="M1505 1258.17L2494.1 339.82"/>
<path d="M1505 1223.28L2494.1 329.84"/>
<path d="M1505 1278.86L2494.1 306.22"/>
<path d="M1505 1301.58L2494.1 276.02"/>
<path d="M1505 1241.48L2494.1 352.2"/>
<path d="M1505 1212.76L2494.1 322.3"/>
<path d="M1505 1130.52L2494.1 371.55"/>
<path d="M1505 1238.97L2494.1 333.14"/>
<path d="M1505 1224.01L2494.1 339.48"/>
<path d="M1505 1179.73L2494.1 414.74"/>
<path d="M1505 1255.21L2494.1 321.79"/>
<path d="M1505 1276.59L2494.1 323.6"/>
<path d="M1505 1213.87L2494.1 349.98"/>
<path d="M1505 1226.84L2494.1 337.9"/>
<path d="M1505 1212.94L2494.1 365.16"/>
<path d="M1505 1300.8L2494.1 336.71"/>
<path d="M1505 1179.74L2494.1 370.14"/>
<path d="M1505 1246.7L2494.1 353.65"/>
<path d="M1505 1319.94L2494.1 278.98"/>
<path d="M1505 1260.9L2494.1 342.8"/>
<path d="M1505 1273.87L2494.1 328.84"/>
<path d="M1505 1273.02L2494.1 368.42"/>
<path d="M1505 1184.8L2494.1 351.43"/>
<path d="M1505 1246.98L2494.1 334.48"/>
<path d="M1505 1253.97L2494.1 312.92"/>
<path d="M1505 1182.32L2494.1 338.43"/>
<path d="M1505 1264.7L2494.1 327.84"/>
<path d="M1505 1317.98L2494.1 322.7"/>
<path d="M1505 1301.44L2494.1 317.49"/>
<path d="M1505 1195.89L2494.1 390.81"/>
<path d="M1505 1214.5L2494.1 367.32"/>
<path d="M1505 1178.91L2494.1 375.98"/>
<path d="M1505 1314.92L2494.1 330.87"/>
<path d="M1505 1270.79L2494.1 316.55"/>
<path d="M1505 1296.54L2494.1 336.3"/>
<path d="M1505 1209.12L2494.1 355.23"/>
<path d="M1505 1201.22L2494.1 367.3"/>
<path d="M1505 1258.4L2494.1 338.66"/>
<path d="M1505 1256.45L2494.1 335.16"/>
<path d="M1505 1220.34L2494.1 364.77"/>
<path d="M1505 1264.63L2494.1 340.67"/>
<path d="M1505 1296.55L2494.1 340.1"/>
<path d="M1505 1260.95L2494.1 331.44"/>
<path d="M1505 1183.21L2494.1 340.47"/>
<path d="M1505 1133.38L2494.1 365.02"/>
<path d="M1505 1224.1L2494.1 327.28"/>
<path d="M1505 1249.54L2494.1 324.15"/>
<path d="M1505 1248.25L2494.1 351.52"/>
<path d="M1505 1215.17L2494.1 330.09"/>
<path d="M1505 1221.7L2494.1 354.85"/>
<path d="M1505 1279.51L2494.1 318.46"/>
<path d="M1505 1252.71L2494.1 341.58"/>
<path d="M1505 1255.34L2494.1 332.61"/>
<path d="M1505 1213.86L2494.1 366.42"/>
<path d="M1505 1225.18L2494.1 353.41"/>
<path d="M1505 1271.21L2494.1 345.85"/>
<path d="M1505 1211.6L2494.1 366.52"/>
<path d="M1505 1168.13L2494.1 340.63"/>
<path d="M1505 1237.86L2494.1 345.91"/>
<path d="M1505 1297.67L2494.1 305.23"/>
<path d="M1505 1252.69L2494.1 325.58"/>
<path d="M1505 1294.01L2494.1 284.84"/>
<path d="M1505 1259.2L2494.1 353.55"/>
<path d="M1505 1240.37L2494.1 347.09"/>
<path d="M1505 1178.68L2494.1 360.4"/>
<path d="M1505 1222.85L2494.1 348.02"/>
<path d="M1505 1300.4L2494.1 292.81"/>
<path d="M1505 1245.61L2494.1 309.66"/>
<path d="M1505 1287.5L2494.1 325.32"/>
<path d="M1505 1277.31L2494.1 316.94"/>
<path d="M1505 1257.36L2494.1 343.26"/>
<path d="M1505 1224.44L2494.1 323.87"/>
<path d="M1505 1279.94L2494.1 357.47"/>
<path d="M1505 1285.23L2494.1 327.05"/>
<path d="M1505 1275.77L2494.1 331.39"/>
<path d="M1505 1262.58L2494.1 316"/>
<path d="M1505 1250.34L2494.1 325.61"/>
<path d="M1505 1200.64L2494.1 339.23"/>
<path d="M1505 1259.06L2494.1 362.43"/>
<path d="M1505 1200.83L2494.1 351.31"/>
<path d="M1505 1292.05L2494.1 312.31"/>
<path d="M1505 1165.91L2494.1 396.82"/>
<path d="M1505 1235.38L2494.1 335.71"/>
<path d="M1505 1337.31L2494.1 268.14"/>
<path d="M1505 1261.63L2494.1 370.54"/>
<path d="M1505 1205.8L2494.1 369.68"/>
<path d="M1505 1268.84L2494.1 355.32"/>
<path d="M1505 1305.37L2494.1 307.21"/>
<path d="M1505 1239.94L2494.1 336.29"/>
<path d="M1505 1271.26L2494.1 316.83"/>
<path d="M1505 1236.3L2494.1 315.07"/>
<path d="M1505 1237.51L2494.1 348.59"/>
<path d="M1505 1272.94L2494.1 353.58"/>
<path d="M1505 1237L2494.1 359.47"/>
<path d="M1505 1241.06L2494.1 360.26"/>
<path d="M1505 1281.21L2494.1 341.83"/>
<path d="M1505 1262.26L2494.1 321.03"/>
<path d="M1505 1288.47L2494.1 323.77"/>
<path d="M1505 1281.12L2494.1 357.23"/>
<path d="M1505 1179.6L2494.1 364.05"/>
<path d="M1505 1273.44L2494.1 324.27"/>
<path d="M1505 1233.58L2494.1 340.23"/>
<path d="M1505 1237.63L2494.1 342.7"/>
<path d="M1505 1178.09L2494.1 366.1"/>
<path d="M1505 1225.78L2494.1 350.76"/>
<path d="M1505 1204.47L2494.1 340.08"/>
<path d="M1505 1244.73L2494.1 332.49"/>
<path d="M1505 1182.32L2494.1 368.28"/>
<path d="M1505 1248.57L2494.1 330.53"/>
<path d="M1505 1274.15L2494.1 351.34"/>
<path d="M1505 1203.98L2494.1 366.81"/>
<path d="M1505 1227.12L2494.1 355.64"/>
<path d="M1505 1211.14L2494.1 355.8"/>
<path d="M1505 1301.74L2494.1 328.27"/>
<path d="M1505 1118.69L2494.1 379.14"/>
<path d="M1505 1235.13L2494.1 344.16"/>
<path d="M1505 1192.44L2494.1 392.76"/>
<path d="M1505 1253.2L2494.1 368.35"/>
<path d="M1505 1286.62L2494.1 317.09"/>
<path d="M1505 1224.8L2494.1 353.74"/>
<path d="M1505 1265.76L2494.1 342.05"/>
<path d="M1505 1213.1L2494.1 356.88"/>
<path d="M1505 1323.42L2494.1 283.21"/>
<path d="M1505 1278.78L2494.1 304.95"/>
<path d="M1505 1301.24L2494.1 313.57"/>
<path d="M1505 1193.14L2494.1 370.42"/>
<path d="M1505 1190.96L2494.1 352.5"/>
<path d="M1505 1259.78L2494.1 275.18"/>
<path d="M1505 1255.16L2494.1 353.86"/>
<path d="M1505 1245.78L2494.1 348.89"/>
<path d="M1505 1274.85L2494.1 338.5"/>
<path d="M1505 1186.44L2494.1 358.66"/>
<path d="M1505 1294.59L2494.1 329.83"/>
<path d="M1505 1258.09L2494.1 342.15"/>
<path d="M1505 1270.51L2494.1 324.75"/>
<path d="M1505 1233.8L2494.1 365.51"/>
<path d="M1505 1283L2494.1 335.04"/>
<path d="M1505 1226.18L2494.1 360.27"/>
<path d="M1505 1312.28L2494.1 335.79"/>
<path d="M1505 1310.05L2494.1 322.22"/>
<path d="M1505 1290.42L2494.1 316.68"/>
<path d="M1505 1269.73L2494.1 321.56"/>
<path d="M1505 1278.03L2494.1 322.27"/>
<path d="M1505 1151.88L2494.1 424.63"/>
<path d="M1505 1288.43L2494.1 319.67"/>
<path d="M1505 1229.77L2494.1 334"/>
<path d="M1505 1248.59L2494.1 327.69"/>
<path d="M1505 1239.97L2494.1 344.87"/>
<path d="M1505 1200.61L2494.1 382.25"/>
<path d="M1505 1220.13L2494.1 342.7"/>
<path d="M1505 1283.67L2494.1 326.32"/>
<path d="M1505 1315.52L2494.1 309.08"/>
<path d="M1505 1233.77L2494.1 362.17"/>
<path d="M1505 1194.04L2494.1 341.92"/>
<path d="M1505 1299.69L2494.1 291.03"/>
<path d="M1505 1198.5L2494.1 344.89"/>
<path d="M1505 1324.77L2494.1 275.89"/>
<path d="M1505 1242.17L2494.1 324.13"/>
<path d="M1505 1219.79L2494.1 366.25"/>
<path d="M1505 1289.74L2494.1 311.31"/>
<path d="M1505 1279.06L2494.1 254.77"/>
<path d="M1505 1178.61L2494.1 363.28"/>
<path d="M1505 1311.52L2494.1 295.92"/>
<path d="M1505 1240.15L2494.1 344.89"/>
<path d="M1505 1299.41L2494.1 288.51"/>
<path d="M1505 1220.09L2494.1 331.7"/>
<path d="M1505 1187.44L2494.1 381.98"/>
<path d="M1505 1292.09L2494.1 344.86"/>
<path d="M1505 1289.3L2494.1 314.61"/>
<path d="M1505 1319.32L2494.1 268.99"/>
<path d="M1505 1308.68L2494.1 282.43"/>
<path d="M1505 1262.01L2494.1 302.28"/>
<path d="M1505 1237.21L2494.1 338.92"/>
<path d="M1505 1218.72L2494.1 340.04"/>
<path d="M1505 1251.87L2494.1 357.54"/>
<path d="M1505 1204.32L2494.1 347.14"/>
<path d="M1505 1214.03L2494.1 318.29"/>
<path d="M1505 1128.39L2494.1 389.96"/>
<path d="M1505 1255.59L2494.1 329.26"/>
<path d="M1505 1248.34L2494.1 335.59"/>
<path d="M1505 1308.25L2494.1 227.53"/>
<path d="M1505 1291.42L2494.1 327.58"/>
<path d="M1505 1231.7L2494.1 350.22"/>
<path d="M1505 1267.71L2494.1 316.42"/>
<path d="M1505 1188.24L2494.1 358.42"/>
<path d="M1505 1230.24L2494.1 357.25"/>
<path d="M1505 1164.72L2494.1 379.38"/>
<path d="M1505 1305.27L2494.1 297.61"/>
<path d="M1505 1272.86L2494.1 319.72"/>
<path d="M1505 1201.09L2494.1 367.8"/>
<path d="M1505 1262.66L2494.1 352.09"/>
<path d="M1505 1286.94L2494.1 310.75"/>
<path d="M1505 1260.11L2494.1 313.32"/>
<path d="M1505 1278.24L2494.1 338.75"/>
<path d="M1505 1216.56L2494.1 361.24"/>
<path d="M1505 1215.36L2494.1 344.76"/>
<path d="M1505 1268.29L2494.1 347.38"/>
<path d="M1505 1283.49L2494.1 309.2"/>
<path d="M1505 1227.77L2494.1 370.45"/>
<path d="M1505 1188.16L2494.1 351.11"/>
<path d="M1505 1264.97L2494.1 276.21"/>
<path d="M1505 1185.92L2494.1 335.63"/>
<path d="M1505 1293.51L2494.1 309.08"/>
<path d="M1505 1252.21L2494.1 321.73"/>
<path d="M1505 1282.92L2494.1 311.17"/>
<path d="M1505 1309.33L2494.1 281.74"/>
<path d="M1505 1258.98L2494.1 299.67"/>
<path d="M1505 1296.77L2494.1 331.81"/>
<path d="M1505 1198.19L2494.1 347.03"/>
<path d="M1505 1221.45L2494.1 354.86"/>
<path d="M1505 1259.08L2494.1 302.66"/>
<path d="M1505 1302.48L2494.1 288.48"/>
<path d="M1505 1308.75L2494.1 303.95"/>
<path d="M1505 1321.25L2494.1 256.65"/>
<path d="M1505 1254.89L2494.1 320.01"/>
<path d="M1505 1259.17L2494.1 331.29"/>
<path d="M1505 1282.64L2494.1 302.79"/>
<path d="M1505 1258.57L2494.1 342.58"/>
<path d="M1505 1274.59L2494.1 364.16"/>
<path d="M1505 1194.31L2494.1 352.13"/>
<path d="M1505 1279.59L2494.1 300.71"/>
<path d="M1505 1202.32L2494.1 361.84"/>
<path d="M1505 1270.54L2494.1 322.64"/>
<path d="M1505 1176.05L2494.1 359.63"/>
<path d="M1505 1297.01L2494.1 311.34"/>
<path d="M1505 1214.59L2494.1 371.13"/>
<path d="M1505 1285.39L2494.1 316.07"/>
<path d="M1505 1166.56L2494.1 361.94"/>
<path d="M1505 1248.95L2494.1 364.66"/>
<path d="M1505 1279.64L2494.1 288.66"/>
<path d="M1505 1223.71L2494.1 364.76"/>
<path d="M1505 1267.54L2494.1 348.43"/>
<path d="M1505 1215.17L2494.1 333.56"/>
<path d="M1505 1149.62L2494.1 394.9"/>
<path d="M1505 1279.44L2494.1 344.76"/>
<path d="M1505 1272.75L2494.1 330.03"/>
<path d="M1505 1191.24L2494.1 353.24"/>
<path d="M1505 1259.17L2494.1 307.3"/>
<path d="M1505 1221.57L2494.1 361.95"/>
<path d="M1505 1202.24L2494.1 357.02"/>
<path d="M1505 1243.11L2494.1 327.9"/>
<path d="M1505 1229.27L2494.1 361.73"/>
<path d="M1505 1319.77L2494.1 256.73"/>
<path d="M1505 1182.9L2494.1 375.89"/>
<path d="M1505 1285.97L2494.1 323.45"/>
<path d="M1505 1293.94L2494.1 315.22"/>
<path d="M1505 1162.59L2494.1 384.99"/>
<path d="M1505 1174.17L2494.1 379.47"/>
<path d="M1505 1280.05L2494.1 328.91"/>
<path d="M1505 1235.46L2494.1 354.07"/>
<path d="M1505 1253.08L2494.1 313.51"/>
<path d="M1505 1290.26L2494.1 301.79"/>
<path d="M1505 1224.4L2494.1 335.43"/>
<path d="M1505 1189.91L2494.1 348.88"/>
<path d="M1505 1122.18L2494.1 396.57"/>
<path d="M1505 1232.16L2494.1 304.17"/>
<path d="M1505 1220.49L2494.1 370.08"/>
<path d="M1505 1254.1L2494.1 319.07"/>
<path d="M1505 1264.59L2494.1 334.84"/>
<path d="M1505 1167.67L2494.1 348.85"/>
<path d="M1505 1289.41L2494.1 263.15"/>
<path d="M1505 1314.73L2494.1 329.9"/>
<path d="M1505 1295.01L2494.1 325.38"/>
<path d="M1505 1191.05L2494.1 358.37"/>
<path d="M1505 1224L2494.1 337.47"/>
<path d="M1505 1218.49L2494.1 341.63"/>
<path d="M1505 1234.1L2494.1 348.08"/>
<path d="M1505 1196.28L2494.1 359.41"/>
<path d="M1505 1260.58L2494.1 317.7"/>
<path d="M1505 1261.58L2494.1 331.99"/>
<path d="M1505 1253.44L2494.1 315.04"/>
<path d="M1505 1256.59L2494.1 376.89"/>
<path d="M1505 1289.88L2494.1 291.62"/>
<path d="M1505 1271.54L2494.1 344.63"/>
<path d="M1505 1117.31L2494.1 392.28"/>
<path d="M1505 1226.06L2494.1 355.66"/>
<path d="M1505 1259.75L2494.1 348.93"/>
<path d="M1505 1282.67L2494.1 305.47"/>
<path d="M1505 1249.31L2494.1 355.39"/>
<path d="M1505 1251.56L2494.1 354.12"/>
<path d="M1505 1241.27L2494.1 372.44"/>
<path d="M1505 1277.23L2494.1 319.42"/>
<path d="M1505 1225.78L2494.1 342.03"/>
<path d="M1505 1212.52L2494.1 339.57"/>
<path d="M1505 1220.49L2494.1 357.16"/>
<path d="M1505 1260.3L2494.1 309.53"/>
<path d="M1505 1227.81L2494.1 349.98"/>
<path d="M1505 1178.21L2494.1 379.59"/>
<path d="M1505 1268.43L2494.1 313.39"/>
<path d="M1505 1207.76L2494.1 341.6"/>
<path d="M1505 1269.7L2494.1 331.85"/>
<path d="M1505 1269.15L2494.1 330.21"/>
<path d="M1505 1296.81L2494.1 304.2"/>
<path d="M1505 1288.8L2494.1 306.47"/>
<path d="M1505 1237.08L2494.1 362.16"/>
<path d="M1505 1231.72L2494.1 328.49"/>
<path d="M1505 1199.21L2494.1 373.88"/>
<path d="M1505 1303.14L2494.1 279.89"/>
<path d="M1505 1278.75L2494.1 335.42"/>
<path d="M1505 1296.33L2494.1 291.37"/>
<path d="M1505 1232.72L2494.1 340.07"/>
<path d="M1505 1165.34L2494.1 392.58"/>
<path d="M1505 1280.19L2494.1 266.35"/>
<path d="M1505 1250.76L2494.1 329.97"/>
<path d="M1505 1235.33L2494.1 311.95"/>
<path d="M1505 1242.11L2494.1 323.76"/>
<path d="M1505 1284.19L2494.1 327.73"/>
<path d="M1505 1276.76L2494.1 327.52"/>
<path d="M1505 1175.63L2494.1 371.09"/>
<path d="M1505 1290.43L2494.1 305.36"/>
<path d="M1505 1227.61L2494.1 349.5"/>
<path d="M1505 1234.41L2494.1 352.01"/>
<path d="M1505 1332.02L2494.1 305.52"/>
<path d="M1505 1288.44L2494.1 314.14"/>
<path d="M1505 1263.49L2494.1 372.17"/>
<path d="M1505 1164.44L2494.1 378.33"/>
<path d="M1505 1266.78L2494.1 341.56"/>
<path d="M1505 1281L2494.1 331.4"/>
<path d="M1505 1250.6L2494.1 341.42"/>
<path d="M1505 1193.04L2494.1 364.63"/>
<path d="M1505 1233.97L2494.1 374"/>
<path d="M1505 1217.12L2494.1 389.34"/>
<path d="M1505 1273.01L2494.1 344.32"/>
<path d="M1505 1307.02L2494.1 339.25"/>
<path d="M1505 1300.89L2494.1 319.8"/>
<path d="M1505 1199.94L2494.1 335.92"/>
<path d="M1505 1273.67L2494.1 343.7"/>
<path d="M1505 1265.01L2494.1 314.41"/>
<path d="M1505 1245.61L2494.1 366.27"/>
<path d="M1505 1241.34L2494.1 336.87"/>
<path d="M1505 1324.05L2494.1 271.91"/>
<path d="M1505 1260.42L2494.1 332.39"/>
<path d="M1505 1277.56L2494.1 305.68"/>
<path d="M1505 1211.08L2494.1 326.46"/>
<path d="M1505 1250.82L2494.1 333.36"/>
<path d="M1505 1173.84L2494.1 377.88"/>
<path d="M1505 1262.17L2494.1 349.15"/>
<path d="M1505 1287.44L2494.1 295.56"/>
<path d="M1505 1322.56L2494.1 272.04"/>
<path d="M1505 1284.57L2494.1 292.41"/>
<path d="M1505 1278.2L2494.1 319.01"/>
<path d="M1505 1232.54L2494.1 314.35"/>
<path d="M1505 1249.09L2494.1 375.9"/>
<path d="M1505 1248.04L2494.1 344.38"/>
<path d="M1505 1264.35L2494.1 309.95"/>
<path d="M1505 1221.11L2494.1 360.76"/>
<path d="M1505 1295.73L2494.1 320.61"/>
<path d="M1505 1211.25L2494.1 364.68"/>
<path d="M1505 1189.14L2494.1 397.68"/>
<path d="M1505 1205.34L2494.1 360.71"/>
<path d="M1505 1147.99L2494.1 348.63"/>
<path d="M1505 1176.83L2494.1 357.17"/>
<path d="M1505 1306.05L2494.1 318.06"/>
<path d="M1505 1253.27L2494.1 352.38"/>
<path d="M1505 1265.13L2494.1 336.23"/>
<path d="M1505 1281.27L2494.1 291.6"/>
<path d="M1505 1306.54L2494.1 310.33"/>
<path d="M1505 1237.64L2494.1 357.85"/>
<path d="M1505 1287.98L2494.1 287.29"/>
<path d="M1505 1256.13L2494.1 316.5"/>
<path d="M1505 1256.14L2494.1 341.16"/>
<path d="M1505 1282.31L2494.1 338.95"/>
<path d="M1505 1207.09L2494.1 391.12"/>
<path d="M1505 1225.29L2494.1 365"/>
<path d="M1505 1273.76L2494.1 366.49"/>
<path d="M1505 1265.83L2494.1 311.63"/>
<path d="M1505 1242.76L2494.1 353.78"/>
<path d="M1505 1240.06L2494.1 334.12"/>
<path d="M1505 1264.7L2494.1 287.24"/>
<path d="M1505 1286.97L2494.1 280.9"/>
<path d="M1505 1294.42L2494.1 330.04"/>
<path d="M1505 1286.34L2494.1 289.54"/>
<path d="M1505 1219.68L2494.1 332.94"/>
<path d="M1505 1247.06L2494.1 353.53"/>
<path d="M1505 1275.64L2494.1 340.28"/>
<path d="M1505 1239.58L2494.1 345.69"/>
<path d="M1505 1248.57L2494.1 368.95"/>
<path d="M1505 1290.23L2494.1 268.61"/>
<path d="M1505 1271.79L2494.1 370.97"/>
<path d="M1505 1222.24L2494.1 374.42"/>
<path d="M1505 1273.72L2494.1 327.43"/>
<path d="M1505 1315.74L2494.1 282.23"/>
<path d="M1505 1252.74L2494.1 332.75"/>
<path d="M1505 1292.44L2494.1 298.03"/>
<path d="M1505 1234.82L2494.1 350.4"/>
<path d="M1505 1216.09L2494.1 335.38"/>
<path d="M1505 1247.01L2494.1 380.05"/>
<path d="M1505 1245.19L2494.1 340.36"/>
<path d="M1505 1321.66L2494.1 288.12"/>
<path d="M1505 1198.78L2494.1 364.1"/>
<path d="M1505 1304.97L2494.1 284.31"/>
<path d="M1505 1217.99L2494.1 373.11"/>
<path d="M1505 1248.98L2494.1 350.42"/>
<path d="M1505 1273.24L2494.1 304.42"/>
<path d="M1505 1271.42L2494.1 315.89"/>
<path d="M1505 1270.93L2494.1 337.93"/>
<path d="M1505 1153.56L2494.1 353.1"/>
<path d="M1505 1237.79L2494.1 299.59"/>
<path d="M1505 1224.04L2494.1 380.13"/>
<path d="M1505 1326.31L2494.1 245.39"/>
<path d="M1505 1211.72L2494.1 311.74"/>
<path d="M1505 1249.55L2494.1 322.59"/>
<path d="M1505 1198.1L2494.1 362.81"/>
<path d="M1505 1232.94L2494.1 351.36"/>
<path d="M1505 1200.89L2494.1 375.6"/>
<path d="M1505 1290.31L2494.1 312.06"/>
<path d="M1505 1246.65L2494.1 350.04"/>
<path d="M1505 1264.19L2494.1 313.03"/>
<path d="M1505 1226.14L2494.1 358.82"/>
<path d="M1505 1234.78L2494.1 354.74"/>
<path d="M1505 1312.04L2494.1 313.96"/>
<path d="M1505 1209.18L2494.1 361.75"/>
<path d="M1505 1182.26L2494.1 392.34"/>
<path d="M1505 1269.62L2494.1 328.58"/>
<path d="M1505 1188.4L2494.1 352.73"/>
<path d="M1505 1227.72L2494.1 343.42"/>
<path d="M1505 1279.3L2494.1 305.57"/>
<path d="M1505 1211.07L2494.1 353.03"/>
<path d="M1505 1283.58L2494.1 312"/>
<path d="M1505 1223.01L2494.1 355.46"/>
<path d="M1505 1307.22L2494.1 296.04"/>
<path d="M1505 1289.4L2494.1 288.93"/>
<path d="M1505 1243.88L2494.1 361.79"/>
<path d="M1505 1225.88L2494.1 325.89"/>
<path d="M1505 1214.38L2494.1 357.27"/>
<path d="M1505 1268.57L2494.1 340.87"/>
<path d="M1505 1299.08L2494.1 309.99"/>
<path d="M1505 1195.57L2494.1 381.06"/>
<path d="M1505 1283.67L2494.1 309.56"/>
<path d="M1505 1201.56L2494.1 378.55"/>
<path d="M1505 1199.72L2494.1 344.53"/>
<path d="M1505 1181.51L2494.1 390.64"/>
<path d="M1505 1347.25L2494.1 296.34"/>
<path d="M1505 1262.72L2494.1 344.16"/>
<path d="M1505 1285.58L2494.1 354.98"/>
<path d="M1505 1222.18L2494.1 354.27"/>
<path d="M1505 1277.7L2494.1 293.92"/>
<path d="M1505 1149.95L2494.1 380.94"/>
<path d="M1505 1268.77L2494.1 352.28"/>
<path d="M1505 1331.35L2494.1 273.86"/>
<path d="M1505 1213.14L2494.1 324.85"/>
<path d="M1505 1248.32L2494.1 332.45"/>
<path d="M1505 1277.1L2494.1 318.85"/>
<path d="M1505 1202.9L2494.1 344.37"/>
<path d="M1505 1222.7L2494.1 306.45"/>
<path d="M1505 1271.35L2494.1 294.43"/>
<path d="M1505 1257.59L2494.1 330.25"/>
<path d="M1505 1261.8L2494.1 323.04"/>
<path d="M1505 1228.65L2494.1 338.1"/>
<path d="M1505 1271.4L2494.1 336.23"/>
<path d="M1505 1266.57L2494.1 348.2"/>
<path d="M1505 1301.82L2494.1 292.95"/>
<path d="M1505 1290.46L2494.1 328.85"/>
<path d="M1505 1241.53L2494.1 343.65"/>
<path d="M1505 1141.04L2494.1 395.84"/>
<path d="M1505 1250.32L2494.1 289.27"/>
<path d="M1505 1290.38L2494.1 326.76"/>
<path d="M1505 1212.49L2494.1 361.27"/>
<path d="M1505 1164.53L2494.1 388.25"/>
<path d="M1505 1195.7L2494.1 360.07"/>
<path d="M1505 1273.22L2494.1 298.55"/>
<path d="M1505 1210.38L2494.1 369.4"/>
<path d="M1505 1241.22L2494.1 358.3"/>
<path d="M1505 1280.17L2494.1 351.15"/>
<path d="M1505 1306.73L2494.1 312.78"/>
<path d="M1505 1244.18L2494.1 330.68"/>
<path d="M1505 1246.52L2494.1 338.72"/>
<path d="M1505 1239.63L2494.1 362.9"/>
<path d="M1505 1311.97L2494.1 291.74"/>
<path d="M1505 1290.11L2494.1 306.4"/>
<path d="M1505 1241.2L2494.1 333.03"/>
<path d="M1505 1196.8L2494.1 378.82"/>
<path d="M1505 1219.67L2494.1 359.67"/>
<path d="M1505 1295.85L2494.1 343.61"/>
<path d="M1505 1233.64L2494.1 368.87"/>
<path d="M1505 1265.16L2494.1 292.69"/>
<path d="M1505 1292.24L2494.1 354.1"/>
<path d="M1505 1267.19L2494.1 333.5"/>
<path d="M1505 1273.82L2494.1 316.8"/>
<path d="M1505 1275.4L2494.1 328.39"/>
<path d="M1505 1223.55L2494.1 368.05"/>
<path d="M1505 1237.91L2494.1 345.72"/>
<path d="M1505 1325.18L2494.1 259.08"/>
<path d="M1505 1199.05L2494.1 367.99"/>
<path d="M1505 1253.36L2494.1 371.48"/>
<path d="M1505 1292.27L2494.1 308.58"/>
<path d="M1505 1254.85L2494.1 351.12"/>
<path d="M1505 1222.3L2494.1 363.82"/>
<path d="M1505 1190.15L2494.1 367.08"/>
<path d="M1505 1264.48L2494.1 315.04"/>
<path d="M1505 1278.13L2494.1 297.4"/>
<path d="M1505 1306.85L2494.1 301.54"/>
<path d="M1505 1242.47L2494.1 324.23"/>
<path d="M1505 1275.6L2494.1 293.24"/>
<path d="M1505 1192.08L2494.1 348.9"/>
<path d="M1505 1241.4L2494.1 315.77"/>
<path d="M1505 1223.4L2494.1 355.59"/>
<path d="M1505 1260.57L2494.1 334.57"/>
<path d="M1505 1269.91L2494.1 306.59"/>
<path d="M1505 1307.17L2494.1 323.22"/>
<path d="M1505 1205.23L2494.1 359.07"/>
<path d="M1505 1303.27L2494.1 306.53"/>
<path d="M1505 1235.08L2494.1 353.2"/>
<path d="M1505 1227.27L2494.1 383.59"/>
<path d="M1505 1254.78L2494.1 351.84"/>
<path d="M1505 1186.91L2494.1 373.5"/>
<path d="M1505 1240.9L2494.1 325.84"/>
<path d="M1505 1250.99L2494.1 317.49"/>
<path d="M1505 1243.66L2494.1 342.78"/>
<path d="M1505 1274.54L2494.1 325.1"/>
<path d="M1505 1247.72L2494.1 354.76"/>
<path d="M1505 1246.77L2494.1 331.74"/>
<path d="M1505 1190.64L2494.1 375.71"/>
<path d="M1505 1245.88L2494.1 328.35"/>
<path d="M1505 1192.72L2494.1 336.93"/>
<path d="M1505 1232.09L2494.1 348.5"/>
<path d="M1505 1265.51L2494.1 357.24"/>
<path d="M1505 1269.57L2494.1 342.45"/>
<path d="M1505 1196.06L2494.1 395.41"/>
<path d="M1505 1196.63L2494.1 390.22"/>
<path d="M1505 1222.4L2494.1 328.57"/>
<path d="M1505 1267.22L2494.1 321.78"/>
<path d="M1505 1284.1L2494.1 346.04"/>
<path d="M1505 1276.86L2494.1 304.35"/>
<path d="M1505 1282.6L2494.1 283.68"/>
<path d="M1505 1275.15L2494.1 328.27"/>
<path d="M1505 1258.8L2494.1 345.41"/>
<path d="M1505 1210L2494.1 366.72"/>
<path d="M1505 1206.27L2494.1 357.07"/>
<path d="M1505 1223.18L2494.1 340.79"/>
<path d="M1505 1247.81L2494.1 315.74"/>
<path d="M1505 1245.62L2494.1 316.58"/>
<path d="M1505 1237.29L2494.1 322.25"/>
<path d="M1505 1228.28L2494.1 324.1"/>
<path d="M1505 1267.65L2494.1 312.1"/>
<path d="M1505 1278.37L2494.1 350.13"/>
<path d="M1505 1264.89L2494.1 330.86"/>
<path d="M1505 1259.9L2494.1 325.19"/>
<path d="M1505 1232.08L2494.1 355.18"/>
<path d="M1505 1194.91L2494.1 351.58"/>
<path d="M1505 1274.95L2494.1 328.42"/>
<path d="M1505 1279.03L2494.1 337.32"/>
<path d="M1505 1224.32L2494.1 324.81"/>
<path d="M1505 1225.13L2494.1 339.18"/>
<path d="M1505 1321.1L2494.1 258.97"/>
<path d="M1505 1206.79L2494.1 344.64"/>
<path d="M1505 1229.06L2494.1 329.37"/>
<path d="M1505 1257.92L2494.1 325.98"/>
<path d="M1505 1230.22L2494.1 395.44"/>
<path d="M1505 1264.4L2494.1 342.06"/>
<path d="M1505 1317.52L2494.1 286.47"/>
<path d="M1505 1298.08L2494.1 322.91"/>
<path d="M1505 1273.31L2494.1 317.66"/>
<path d="M1505 1259.85L2494.1 306.77"/>
<path d="M1505 1261.88L2494.1 339.88"/>
<path d="M1505 1300.72L2494.1 323.97"/>
<path d="M1505 1220.07L2494.1 316.11"/>
<path d="M1505 1238.36L2494.1 352.9"/>
<path d="M1505 1270.55L2494.1 349.18"/>
<path d="M1505 1282.33L2494.1 308.99"/>
<path d="M1505 1259.39L2494.1 323.26"/>
<path d="M1505 1285.77L2494.1 327.38"/>
<path d="M1505 1151.8L2494.1 377.31"/>
<path d="M1505 1300.44L2494.1 308.51"/>
<path d="M1505 1336.32L2494.1 270.17"/>
<path d="M1505 1296.73L2494.1 295.62"/>
<path d="M1505 1228.19L2494.1 335.44"/>
<path d="M1505 1221.73L2494.1 365.77"/>
<path d="M1505 1258.51L2494.1 325.8"/>
<path d="M1505 1209.03L2494.1 362.66"/>
<path d="M1505 1244.82L2494.1 283.12"/>
<path d="M1505 1236.95L2494.1 358.59"/>
<path d="M1505 1270.28L2494.1 293.38"/>
<path d="M1505 1300.35L2494.1 297.48"/>
<path d="M1505 1162.54L2494.1 388.62"/>
<path d="M1505 1254.36L2494.1 320.66"/>
<path d="M1505 1209.88L2494.1 343.51"/>
<path d="M1505 1173.67L2494.1 356.61"/>
<path d="M1505 1220.32L2494.1 348.34"/>
<path d="M1505 1249.14L2494.1 349.55"/>
<path d="M1505 1295.96L2494.1 314.34"/>
<path d="M1505 1177.84L2494.1 368.51"/>
<path d="M1505 1282.97L2494.1 300.24"/>
<path d="M1505 1300.67L2494.1 255.38"/>
<path d="M1505 1269.4L2494.1 316"/>
<path d="M1505 1259.76L2494.1 309.68"/>
<path d="M1505 1232.51L2494.1 318.68"/>
<path d="M1505 1197.52L2494.1 364.19"/>
<path d="M1505 1290.19L2494.1 340.84"/>
<path d="M1505 1280.87L2494.1 341.27"/>
<path d="M1505 1296.66L2494.1 334.58"/>
<path d="M1505 1310.68L2494.1 229.77"/>
<path d="M1505 1289.37L2494.1 327.54"/>
<path d="M1505 1253.23L2494.1 310.93"/>
<path d="M1505 1298.43L2494.1 282.65"/>
<path d="M1505 1171.13L2494.1 349.59"/>
<path d="M1505 1188.81L2494.1 353.23"/>
<path d="M1505 1236.23L2494.1 347.47"/>
<path d="M1505 1225.06L2494.1 355.68"/>
<path d="M1505 1276.88L2494.1 317.24"/>
<path d="M1505 1235.41L2494.1 342.65"/>
<path d="M1505 1316.87L2494.1 289.57"/>
<path d="M1505 1304.74L2494.1 291.64"/>
<path d="M1505 1261.08L2494.1 296.51"/>
<path d="M1505 1255.14L2494.1 367.12"/>
<path d="M1505 1272.04L2494.1 317.38"/>
<path d="M1505 1292.98L2494.1 325.76"/>
<path d="M1505 1202.09L2494.1 361.24"/>
<path d="M1505 1255.08L2494.1 317.75"/>
<path d="M1505 1279.04L2494.1 318.61"/>
<path d="M1505 1250.78L2494.1 322.01"/>
<path d="M1505 1325.05L2494.1 308.67"/>
<path d="M1505 1281.78L2494.1 288.49"/>
<path d="M1505 1222.38L2494.1 364.83"/>
<path d="M1505 1248.97L2494.1 326.15"/>
<path d="M1505 1212.42L2494.1 355.56"/>
<path d="M1505 1305.15L2494.1 352.9"/>
<path d="M1505 1222.38L2494.1 367.71"/>
<path d="M1505 1283.13L2494.1 308.65"/>
<path d="M1505 1247.92L2494.1 308.05"/>
<path d="M1505 1283.9L2494.1 306.35"/>
<path d="M1505 1241.99L2494.1 337.28"/>
<path d="M1505 1204.05L2494.1 390.21"/>
<path d="M1505 1293.8L2494.1 264.82"/>
<path d="M1505 1222.01L2494.1 319.21"/>
<path d="M1505 1299.8L2494.1 295.99"/>
<path d="M1505 1270.99L2494.1 328.4"/>
<path d="M1505 1296.82L2494.1 338.47"/>
<path d="M1505 1302.12L2494.1 269.01"/>
<path d="M1505 1232.19L2494.1 295.42"/>
<path d="M1505 1292.16L2494.1 286.83"/>
<path d="M1505 1170.37L2494.1 358.47"/>
<path d="M1505 1277.48L2494.1 306.37"/>
<path d="M1505 1252.79L2494.1 354.79"/>
<path d="M1505 1229.4L2494.1 323.93"/>
<path d="M1505 1266.79L2494.1 351.46"/>
<path d="M1505 1267.72L2494.1 330.54"/>
<path d="M1505 1304.81L2494.1 282.86"/>
<path d="M1505 1158.37L2494.1 372.07"/>
<path d="M1505 1248.23L2494.1 330.62"/>
<path d="M1505 1215.22L2494.1 350.11"/>
<path d="M1505 1302.91L2494.1 312.74"/>
<path d="M1505 1248.5L2494.1 363.06"/>
<path d="M1505 1268.57L2494.1 324.26"/>
<path d="M1505 1242.61L2494.1 355.39"/>
<path d="M1505 1292.84L2494.1 334.87"/>
<path d="M1505 1304.17L2494.1 323.77"/>
<path d="M1505 1239.95L2494.1 352.73"/>
<path d="M1505 1275.92L2494.1 357.98"/>
<path d="M1505 1204.87L2494.1 388.54"/>
<path d="M1505 1283.4L2494.1 348.88"/>
<path d="M1505 1281.33L2494.1 311.19"/>
<path d="M1505 1222.09L2494.1 345.82"/>
<path d="M1505 1267.92L2494.1 280.7"/>
<path d="M1505 1177.29L2494.1 406.21"/>
<path d="M1505 1177.41L2494.1 390.95"/>
<path d="M1505 1178.93L2494.1 360.37"/>
<path d="M1505 1232.78L2494.1 351.62"/>
<path d="M1505 1256.2L2494.1 340.23"/>
<path d="M1505 1227.31L2494.1 318.02"/>
<path d="M1505 1252.64L2494.1 342.52"/>
<path d="M1505 1292.97L2494.1 331.4"/>
<path d="M1505 1246.67L2494.1 364.62"/>
<path d="M1505 1191.5L2494.1 364.3"/>
<path d="M1505 1192.75L2494.1 364.18"/>
<path d="M1505 1336.52L2494.1 285.11"/>
<path d="M1505 1158.44L2494.1 406.68"/>
<path d="M1505 1237.26L2494.1 334.72"/>
<path d="M1505 1295.55L2494.1 286.49"/>
<path d="M1505 1278.1L2494.1 332.07"/>
<path d="M1505 1207.36L2494.1 350.08"/>
<path d="M1505 1244.64L2494.1 329.73"/>
<path d="M1505 1305.4L2494.1 334.76"/>
<path d="M1505 1298.79L2494.1 305.88"/>
<path d="M1505 1206.77L2494.1 354.33"/>
<path d="M1505 1287.19L2494.1 323.24"/>
<path d="M1505 1287.46L2494.1 356.36"/>
<path d="M1505 1295.16L2494.1 308.96"/>
<path d="M1505 1291.44L2494.1 286.75"/>
<path d="M1505 1217.25L2494.1 326.28"/>
<path d="M1505 1213.78L2494.1 399.47"/>
<path d="M1505 1235.37L2494.1 295.01"/>
<path d="M1505 1325.08L2494.1 295.4"/>
<path d="M1505 1266.03L2494.1 306.92"/>
<path d="M1505 1245.72L2494.1 316.07"/>
<path d="M1505 1314.55L2494.1 244.49"/>
<path d="M1505 1203.72L2494.1 361.03"/>
<path d="M1505 1299.19L2494.1 326.02"/>
<path d="M1505 1218.78L2494.1 343.55"/>
<path d="M1505 1262.16L2494.1 344.19"/>
<path d="M1505 1285.67L2494.1 365.11"/>
<path d="M1505 1269.91L2494.1 257.18"/>
<path d="M1505 1201.59L2494.1 351.69"/>
<path d="M1505 1205.91L2494.1 328.23"/>
<path d="M1505 1191.85L2494.1 387.48"/>
<path d="M1505 1252.67L2494.1 306.39"/>
<path d="M1505 1212.07L2494.1 329.06"/>
<path d="M1505 1249.18L2494.1 307.13"/>
<path d="M1505 1204.31L2494.1 363.93"/>
<path d="M1505 1250.25L2494.1 360.4"/>
<path d="M1505 1441.5L2494.1 271.72"/>
<path d="M1505 1381.55L2494.1 201.59"/>
<path d="M1505 1421.59L2494.1 225"/>
<path d="M1505 1405.16L2494.1 259.4"/>
<path d="M1505 1402.08L2494.1 228.6"/>
<path d="M1505 1389.76L2494.1 262.48"/>
<path d="M1505 1380.52L2494.1 231.98"/>
<path d="M1505 1373.33L2494.1 264.53"/>
<path d="M1505 1367.17L2494.1 267.61"/>
<path d="M1505 1363.07L2494.1 272.74"/>
<path d="M1505 1355.88L2494.1 256.32"/>
<path d="M1505 1070.47L2494.1 432.9"/>
<path d="M1505 1095.11L2494.1 402.1"/>
<path d="M1505 1103.32L2494.1 419.56"/>
<path d="M1505 1110.51L2494.1 389.78"/>
<path d="M1505 1114.61L2494.1 407.75"/>
<path d="M1505 1385.65L2494.1 290.22"/>
<path d="M1505 1378.47L2494.1 287.03"/>
<path d="M1505 1371.28L2494.1 263.71"/>
<path d="M1505 1366.15L2494.1 277.37"/>
<path d="M1505 1361.01L2494.1 304.14"/>
<path d="M1505 1356.91L2494.1 290.01"/>
<path d="M1505 1352.8L2494.1 290.16"/>
<path d="M1505 1348.69L2494.1 308.11"/>
<path d="M1505 1344.59L2494.1 282.49"/>
<path d="M1505 1340.48L2494.1 315.13"/>
<path d="M1505 1336.37L2494.1 304"/>
</g>
<path d="M1505 995L2604.1 464.8" stroke="#000" stroke-width="4.17" stroke-linecap="round" clip-path="url(#c2)"/>
<text x="1440.2" y="1491.4" font-size="38.89" text-anchor="end" xml:space="preserve">0</text>
<text x="1440.2" y="1286.07" font-size="38.89" text-anchor="end" xml:space="preserve">2</text>
<text x="1440.2" y="1080.73" font-size="38.89" text-anchor="end" xml:space="preserve">4</text>
<text x="1440.2" y="875.4" font-size="38.89" text-anchor="end" xml:space="preserve">6</text>
<text x="1440.2" y="670.06" font-size="38.89" text-anchor="end" xml:space="preserve">8</text>
<text x="1440.2" y="464.73" font-size="38.89" text-anchor="end" xml:space="preserve">10</text>
<text x="1440.2" y="259.4" font-size="38.89" text-anchor="end" xml:space="preserve">12</text>
<text x="1505" y="1544.3" font-size="38.89" text-anchor="middle" xml:space="preserve">0</text>
<text x="1724.8" y="1544.3" font-size="38.89" text-anchor="middle" xml:space="preserve">2</text>
<text x="1944.6" y="1544.3" font-size="38.89" text-anchor="middle" xml:space="preserve">4</text>
<text x="2164.4" y="1544.3" font-size="38.89" text-anchor="middle" xml:space="preserve">6</text>
<text x="2384.2" y="1544.3" font-size="38.89" text-anchor="middle" xml:space="preserve">8</text>
<text x="2604" y="1544.3" font-size="38.89" text-anchor="middle" xml:space="preserve">10</text>
<text x="2054.45" y="1594.8" font-size="41.67" text-anchor="middle" xml:space="preserve">Treatment Scale/ Risk</text>
<text x="2054.45" y="124.7" font-size="55.7" text-anchor="middle" xml:space="preserve">OLS versus Instrumental Regression Fits</text>
<text transform="translate(1370.3 822.05) rotate(-90)" font-size="41.67" text-anchor="middle">Outcome Scale/ Log GDP</text>
<path d="M1485.8 192.6H1563.6" stroke="#ffa500" stroke-width="11.11" stroke-linecap="round"/>
<path d="M1485.8 250.4H1563.6" stroke="#000" stroke-width="11.11" stroke-linecap="round"/>
<text x="1594.3" y="207.9" font-size="38.89" text-anchor="start" xml:space="preserve">IV fits</text>
<text x="1594.3" y="264.8" font-size="38.89" text-anchor="start" xml:space="preserve">OlS fit</text>
<clipPath id="c3"><rect x="2793.9" y="141.3" width="1208.8" height="1361.5"/></clipPath>
<clipPath id="b3"><rect x="2793.9" y="141.3" width="1208.8" height="1362.6"/></clipPath>
<rect x="2793.9" y="141.3" width="1208.8" height="1361.5" fill="#eeeeee"/>
<path d="M2981 141.3V1502.8M3246 141.3V1502.8M3512 141.3V1502.8M3777 141.3V1502.8M2793.9 1504H4002.7M2793.9 1258H4002.7M2793.9 1012H4002.7M2793.9 766H4002.7M2793.9 519H4002.7M2793.9 273H4002.7" stroke="#fff" stroke-width="2" fill="none" clip-path="url(#c3)"/>
<g clip-path="url(#b3)" fill="#328c06" stroke="#000" stroke-width="2.78" stroke-linejoin="miter">
<rect x="2849.5" y="1465.5" width="37" height="38.75"/>
<rect x="2886.5" y="1365.5" width="36" height="138.75"/>
<rect x="2922.5" y="1115.5" width="37" height="388.75"/>
<rect x="2959.5" y="878.5" width="37" height="625.75"/>
<rect x="2996.5" y="564.5" width="36" height="939.75"/>
<rect x="3032.5" y="416.5" width="37" height="1087.75"/>
<rect x="3069.5" y="206.5" width="36" height="1297.75"/>
<rect x="3105.5" y="307.5" width="37" height="1196.75"/>
<rect x="3142.5" y="495.5" width="37" height="1008.75"/>
<rect x="3179.5" y="645.5" width="36" height="858.75"/>
<rect x="3215.5" y="811.5" width="37" height="692.75"/>
<rect x="3252.5" y="982.5" width="37" height="521.75"/>
<rect x="3289.5" y="1165.5" width="36" height="338.75"/>
<rect x="3325.5" y="1295.5" width="37" height="208.75"/>
<rect x="3362.5" y="1335.5" width="37" height="168.75"/>
<rect x="3399.5" y="1370.5" width="36" height="133.75"/>
<rect x="3435.5" y="1431.5" width="37" height="72.75"/>
<rect x="3472.5" y="1464.5" width="37" height="39.75"/>
<rect x="3509.5" y="1465.5" width="36" height="38.75"/>
<rect x="3545.5" y="1493.5" width="37" height="10.75"/>
<rect x="3582.5" y="1487.5" width="36" height="16.75"/>
<rect x="3618.5" y="1499.5" width="37" height="4.75"/>
<rect x="3655.5" y="1500.5" width="37" height="3.75"/>
<rect x="3692.5" y="1501.5" width="36" height="2.75"/>
<rect x="3728.5" y="1503.5" width="37" height="0.75"/>
<rect x="3765.5" y="1504.25" width="37" height="0.02"/>
<rect x="3802.5" y="1503.5" width="36" height="0.75"/>
<rect x="3838.5" y="1504.25" width="37" height="0.02"/>
<rect x="3875.5" y="1504.25" width="37" height="0.02"/>
<rect x="3912.5" y="1503.5" width="36" height="0.75"/>
</g>
<text x="2784.2" y="1519.4" font-size="38.89" text-anchor="end" xml:space="preserve">0</text>
<text x="2784.2" y="1273.4" font-size="38.89" text-anchor="end" xml:space="preserve">200</text>
<text x="2784.2" y="1027.4" font-size="38.89" text-anchor="end" xml:space="preserve">400</text>
<text x="2784.2" y="781.4" font-size="38.89" text-anchor="end" xml:space="preserve">600</text>
<text x="2784.2" y="534.4" font-size="38.89" text-anchor="end" xml:space="preserve">800</text>
<text x="2784.2" y="288.4" font-size="38.89" text-anchor="end" xml:space="preserve">1000</text>
<text x="2981" y="1544.3" font-size="38.89" text-anchor="middle" xml:space="preserve">−0.8</text>
<text x="3246" y="1544.3" font-size="38.89" text-anchor="middle" xml:space="preserve">−0.6</text>
<text x="3512" y="1544.3" font-size="38.89" text-anchor="middle" xml:space="preserve">−0.4</text>
<text x="3777" y="1544.3" font-size="38.89" text-anchor="middle" xml:space="preserve">−0.2</text>
<text x="3398.3" y="1594.8" font-size="41.67" text-anchor="middle" xml:space="preserve">Correlation Measure</text>
<text x="3398.3" y="62.9" font-size="55.7" text-anchor="middle" xml:space="preserve">Correlation between </text>
<text x="3398.3" y="125.3" font-size="55.7" text-anchor="middle" xml:space="preserve"> Outcome and Treatment</text>
</svg></body></html>
